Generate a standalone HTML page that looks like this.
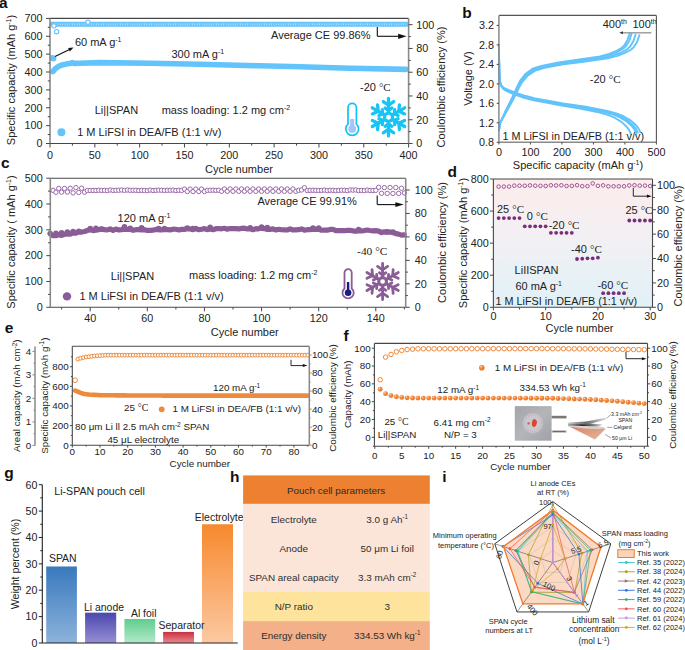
<!DOCTYPE html><html><head><meta charset="utf-8"><style>html,body{margin:0;padding:0;background:#fff;}svg{display:block;}</style></head><body><svg width="685" height="650" viewBox="0 0 685 650" font-family='"Liberation Sans", sans-serif'>
<rect width="685" height="650" fill="white"/>
<defs>
<linearGradient id="gd" x1="0" y1="0" x2="0" y2="1"><stop offset="0" stop-color="#fdeceb"/><stop offset="0.5" stop-color="#f1f0f4"/><stop offset="1" stop-color="#e0f1f7"/></linearGradient>
<linearGradient id="g1" x1="0" y1="0" x2="0" y2="1"><stop offset="0" stop-color="#3a79bd"/><stop offset="1" stop-color="#8cb3db"/></linearGradient>
<linearGradient id="g2" x1="0" y1="0" x2="0" y2="1"><stop offset="0" stop-color="#4b47ad"/><stop offset="1" stop-color="#958fd3"/></linearGradient>
<linearGradient id="g3" x1="0" y1="0" x2="0" y2="1"><stop offset="0" stop-color="#5fcd8e"/><stop offset="1" stop-color="#b3e9ca"/></linearGradient>
<linearGradient id="g4" x1="0" y1="0" x2="0" y2="1"><stop offset="0" stop-color="#c9303e"/><stop offset="1" stop-color="#e98a92"/></linearGradient>
<linearGradient id="g5" x1="0" y1="0" x2="0" y2="1"><stop offset="0" stop-color="#f7892e"/><stop offset="1" stop-color="#fcc9a2"/></linearGradient>
<radialGradient id="sph" cx="0.35" cy="0.32" r="0.75"><stop offset="0" stop-color="#fde2cc"/><stop offset="0.3" stop-color="#f48c44"/><stop offset="1" stop-color="#e8701e"/></radialGradient>
</defs>
<polyline points="51.79,24.3 406.1,24.3" fill="none" stroke="#63c3fb" stroke-width="5.0" stroke-linejoin="round" stroke-linecap="round"/>
<line x1="52.69" y1="24.3" x2="408.6" y2="24.3" stroke="white" stroke-width="2.0" stroke-dasharray="0.9 1.5" opacity="0.55"/>
<circle cx="56.6" cy="31.7" r="2.2" fill="white" stroke="#63c3fb" stroke-width="1.1"/>
<circle cx="53.9" cy="25.8" r="2.2" fill="white" stroke="#63c3fb" stroke-width="1.1"/>
<circle cx="87.9" cy="22.2" r="2.2" fill="white" stroke="#63c3fb" stroke-width="1.1"/>
<circle cx="52.3" cy="58.1" r="3" fill="#63c3fb" stroke="none" stroke-width="1"/>
<circle cx="53.6" cy="58.6" r="2.8" fill="#63c3fb" stroke="none" stroke-width="1"/>
<polyline points="52.8,71.6 55,69 58,66.8 61,65.3 66,64.1 71,63.2 72.5,62.6 74,63.4 80,63.2 100,62.6 150,63.2 200,64.2 260,65.8 300,66.8 350,68.2 406,69.4" fill="none" stroke="#63c3fb" stroke-width="5.6" stroke-linejoin="round" stroke-linecap="round"/>
<line x1="55" y1="56.5" x2="70.5" y2="49" stroke="#111" stroke-width="1.1"/>
<polygon points="73.5,47.6 68.13,47.97 69.86,51.57" fill="#111"/>
<line x1="50" y1="18.4" x2="408.6" y2="18.4" stroke="#474747" stroke-width="1.1"/>
<line x1="50" y1="143.5" x2="408.6" y2="143.5" stroke="#474747" stroke-width="1.1"/>
<line x1="50" y1="18.4" x2="50" y2="143.5" stroke="#8a8a8a" stroke-width="1.6"/>
<line x1="408.6" y1="18.4" x2="408.6" y2="143.5" stroke="#8a8a8a" stroke-width="1.6"/>
<line x1="46" y1="143.5" x2="50" y2="143.5" stroke="#474747" stroke-width="1"/>
<text x="42.4" y="147.3" font-size="10.8" text-anchor="end" font-weight="normal" fill="#222">0</text>
<line x1="46" y1="125.63" x2="50" y2="125.63" stroke="#474747" stroke-width="1"/>
<text x="42.4" y="129.43" font-size="10.8" text-anchor="end" font-weight="normal" fill="#222">100</text>
<line x1="46" y1="107.76" x2="50" y2="107.76" stroke="#474747" stroke-width="1"/>
<text x="42.4" y="111.56" font-size="10.8" text-anchor="end" font-weight="normal" fill="#222">200</text>
<line x1="46" y1="89.89" x2="50" y2="89.89" stroke="#474747" stroke-width="1"/>
<text x="42.4" y="93.69" font-size="10.8" text-anchor="end" font-weight="normal" fill="#222">300</text>
<line x1="46" y1="72.01" x2="50" y2="72.01" stroke="#474747" stroke-width="1"/>
<text x="42.4" y="75.81" font-size="10.8" text-anchor="end" font-weight="normal" fill="#222">400</text>
<line x1="46" y1="54.14" x2="50" y2="54.14" stroke="#474747" stroke-width="1"/>
<text x="42.4" y="57.94" font-size="10.8" text-anchor="end" font-weight="normal" fill="#222">500</text>
<line x1="46" y1="36.27" x2="50" y2="36.27" stroke="#474747" stroke-width="1"/>
<text x="42.4" y="40.07" font-size="10.8" text-anchor="end" font-weight="normal" fill="#222">600</text>
<line x1="46" y1="18.4" x2="50" y2="18.4" stroke="#474747" stroke-width="1"/>
<text x="42.4" y="22.2" font-size="10.8" text-anchor="end" font-weight="normal" fill="#222">700</text>
<line x1="47.8" y1="134.56" x2="50" y2="134.56" stroke="#474747" stroke-width="1"/>
<line x1="47.8" y1="116.69" x2="50" y2="116.69" stroke="#474747" stroke-width="1"/>
<line x1="47.8" y1="98.82" x2="50" y2="98.82" stroke="#474747" stroke-width="1"/>
<line x1="47.8" y1="80.95" x2="50" y2="80.95" stroke="#474747" stroke-width="1"/>
<line x1="47.8" y1="63.08" x2="50" y2="63.08" stroke="#474747" stroke-width="1"/>
<line x1="47.8" y1="45.21" x2="50" y2="45.21" stroke="#474747" stroke-width="1"/>
<line x1="47.8" y1="27.34" x2="50" y2="27.34" stroke="#474747" stroke-width="1"/>
<line x1="408.6" y1="143.5" x2="412.6" y2="143.5" stroke="#474747" stroke-width="1"/>
<text x="416.2" y="147.3" font-size="10.8" text-anchor="start" font-weight="normal" fill="#222">0</text>
<line x1="408.6" y1="119.74" x2="412.6" y2="119.74" stroke="#474747" stroke-width="1"/>
<text x="416.2" y="123.54" font-size="10.8" text-anchor="start" font-weight="normal" fill="#222">20</text>
<line x1="408.6" y1="95.98" x2="412.6" y2="95.98" stroke="#474747" stroke-width="1"/>
<text x="416.2" y="99.78" font-size="10.8" text-anchor="start" font-weight="normal" fill="#222">40</text>
<line x1="408.6" y1="72.22" x2="412.6" y2="72.22" stroke="#474747" stroke-width="1"/>
<text x="416.2" y="76.02" font-size="10.8" text-anchor="start" font-weight="normal" fill="#222">60</text>
<line x1="408.6" y1="48.46" x2="412.6" y2="48.46" stroke="#474747" stroke-width="1"/>
<text x="416.2" y="52.26" font-size="10.8" text-anchor="start" font-weight="normal" fill="#222">80</text>
<line x1="408.6" y1="24.7" x2="412.6" y2="24.7" stroke="#474747" stroke-width="1"/>
<text x="416.2" y="28.5" font-size="10.8" text-anchor="start" font-weight="normal" fill="#222">100</text>
<line x1="408.6" y1="131.62" x2="410.8" y2="131.62" stroke="#474747" stroke-width="1"/>
<line x1="408.6" y1="107.86" x2="410.8" y2="107.86" stroke="#474747" stroke-width="1"/>
<line x1="408.6" y1="84.1" x2="410.8" y2="84.1" stroke="#474747" stroke-width="1"/>
<line x1="408.6" y1="60.34" x2="410.8" y2="60.34" stroke="#474747" stroke-width="1"/>
<line x1="408.6" y1="36.58" x2="410.8" y2="36.58" stroke="#474747" stroke-width="1"/>
<line x1="50" y1="143.5" x2="50" y2="147.5" stroke="#474747" stroke-width="1"/>
<text x="50" y="158.6" font-size="10.8" text-anchor="middle" font-weight="normal" fill="#222">0</text>
<line x1="94.83" y1="143.5" x2="94.83" y2="147.5" stroke="#474747" stroke-width="1"/>
<text x="94.83" y="158.6" font-size="10.8" text-anchor="middle" font-weight="normal" fill="#222">50</text>
<line x1="139.65" y1="143.5" x2="139.65" y2="147.5" stroke="#474747" stroke-width="1"/>
<text x="139.65" y="158.6" font-size="10.8" text-anchor="middle" font-weight="normal" fill="#222">100</text>
<line x1="184.47" y1="143.5" x2="184.47" y2="147.5" stroke="#474747" stroke-width="1"/>
<text x="184.47" y="158.6" font-size="10.8" text-anchor="middle" font-weight="normal" fill="#222">150</text>
<line x1="229.3" y1="143.5" x2="229.3" y2="147.5" stroke="#474747" stroke-width="1"/>
<text x="229.3" y="158.6" font-size="10.8" text-anchor="middle" font-weight="normal" fill="#222">200</text>
<line x1="274.12" y1="143.5" x2="274.12" y2="147.5" stroke="#474747" stroke-width="1"/>
<text x="274.12" y="158.6" font-size="10.8" text-anchor="middle" font-weight="normal" fill="#222">250</text>
<line x1="318.95" y1="143.5" x2="318.95" y2="147.5" stroke="#474747" stroke-width="1"/>
<text x="318.95" y="158.6" font-size="10.8" text-anchor="middle" font-weight="normal" fill="#222">300</text>
<line x1="363.78" y1="143.5" x2="363.78" y2="147.5" stroke="#474747" stroke-width="1"/>
<text x="363.78" y="158.6" font-size="10.8" text-anchor="middle" font-weight="normal" fill="#222">350</text>
<line x1="408.6" y1="143.5" x2="408.6" y2="147.5" stroke="#474747" stroke-width="1"/>
<text x="408.6" y="158.6" font-size="10.8" text-anchor="middle" font-weight="normal" fill="#222">400</text>
<line x1="72.41" y1="143.5" x2="72.41" y2="145.7" stroke="#474747" stroke-width="1"/>
<line x1="117.24" y1="143.5" x2="117.24" y2="145.7" stroke="#474747" stroke-width="1"/>
<line x1="162.06" y1="143.5" x2="162.06" y2="145.7" stroke="#474747" stroke-width="1"/>
<line x1="206.89" y1="143.5" x2="206.89" y2="145.7" stroke="#474747" stroke-width="1"/>
<line x1="251.71" y1="143.5" x2="251.71" y2="145.7" stroke="#474747" stroke-width="1"/>
<line x1="296.54" y1="143.5" x2="296.54" y2="145.7" stroke="#474747" stroke-width="1"/>
<line x1="341.36" y1="143.5" x2="341.36" y2="145.7" stroke="#474747" stroke-width="1"/>
<line x1="386.19" y1="143.5" x2="386.19" y2="145.7" stroke="#474747" stroke-width="1"/>
<text x="239" y="172.8" font-size="11" text-anchor="middle" font-weight="normal" fill="#222">Cycle number</text>
<text x="15" y="80" font-size="11" text-anchor="middle" font-weight="normal" fill="#222" transform="rotate(-90 15 80)">Specific capacity (mAh g<tspan dy="-4" font-size="7">-1</tspan><tspan dy="4">)</tspan></text>
<text x="445" y="87" font-size="11" text-anchor="middle" font-weight="normal" fill="#222" transform="rotate(-90 445 87)">Coulombic efficiency (%)</text>
<text x="-0.9" y="7.9" font-size="15.5" text-anchor="start" font-weight="bold" fill="#111">a</text>
<text x="74.9" y="46.2" font-size="11" text-anchor="start" font-weight="normal" fill="#222">60 mA g<tspan dy="-4" font-size="7">-1</tspan></text>
<text x="171.4" y="57.8" font-size="11" text-anchor="start" font-weight="normal" fill="#222">300 mA g<tspan dy="-4" font-size="7">-1</tspan></text>
<text x="271" y="39" font-size="11" text-anchor="start" font-weight="normal" fill="#222">Average CE 99.86%</text>
<line x1="377.3" y1="27" x2="377.3" y2="36.3" stroke="#111" stroke-width="1.1"/>
<line x1="377.3" y1="36.3" x2="400" y2="36.3" stroke="#111" stroke-width="1.1"/>
<polygon points="406.6,36.3 398.2,33.65 398.2,38.95" fill="#111"/>
<text x="94.7" y="114.2" font-size="11" text-anchor="start" font-weight="normal" fill="#222">Li||SPAN</text>
<text x="161.7" y="114" font-size="11" text-anchor="start" font-weight="normal" fill="#222">mass loading: 1.2 mg cm<tspan dy="-4" font-size="7">-2</tspan></text>
<circle cx="61.4" cy="132.2" r="4" fill="#63c3fb" stroke="none" stroke-width="1"/>
<text x="77.2" y="136.2" font-size="11" text-anchor="start" font-weight="normal" fill="#222">1 M LiFSI in DEA/FB (1:1 v/v)</text>
<text x="360" y="91" font-size="11" text-anchor="start" font-weight="normal" fill="#222">-20 <tspan font-family="Liberation Serif">°C</tspan></text>
<path d="M348 124.07 V107.6 A4.2 4.2 0 0 1 356.4 107.6 V124.07 A6.4 6.4 0 1 1 348 124.07 Z" fill="white" stroke="#12c2f4" stroke-width="1.7"/>
<circle cx="352.2" cy="128.9" r="3.9" fill="#a6c4f6" stroke="none" stroke-width="1"/>
<rect x="350.2" y="119.03" width="4" height="9.87" fill="#a6c4f6"/>
<g stroke="#18c4f4" stroke-width="3.3" stroke-linecap="round"><line x1="388.5" y1="117.2" x2="388.5" y2="98.5"/><line x1="388.5" y1="110.47" x2="391.87" y2="108.11"/><line x1="388.5" y1="110.47" x2="385.13" y2="108.11"/><line x1="388.5" y1="105.23" x2="393.71" y2="101.59"/><line x1="388.5" y1="105.23" x2="383.29" y2="101.59"/><line x1="388.5" y1="117.2" x2="372.31" y2="107.85"/><line x1="382.67" y1="113.83" x2="382.31" y2="109.74"/><line x1="382.67" y1="113.83" x2="378.94" y2="115.57"/><line x1="378.14" y1="111.22" x2="377.58" y2="104.88"/><line x1="378.14" y1="111.22" x2="372.37" y2="113.9"/><line x1="388.5" y1="117.2" x2="372.31" y2="126.55"/><line x1="382.67" y1="120.57" x2="378.94" y2="118.83"/><line x1="382.67" y1="120.57" x2="382.31" y2="124.66"/><line x1="378.14" y1="123.18" x2="372.37" y2="120.5"/><line x1="378.14" y1="123.18" x2="377.58" y2="129.52"/><line x1="388.5" y1="117.2" x2="388.5" y2="135.9"/><line x1="388.5" y1="123.93" x2="385.13" y2="126.29"/><line x1="388.5" y1="123.93" x2="391.87" y2="126.29"/><line x1="388.5" y1="129.17" x2="383.29" y2="132.81"/><line x1="388.5" y1="129.17" x2="393.71" y2="132.81"/><line x1="388.5" y1="117.2" x2="404.69" y2="126.55"/><line x1="394.33" y1="120.57" x2="394.69" y2="124.66"/><line x1="394.33" y1="120.57" x2="398.06" y2="118.83"/><line x1="398.86" y1="123.18" x2="399.42" y2="129.52"/><line x1="398.86" y1="123.18" x2="404.63" y2="120.5"/><line x1="388.5" y1="117.2" x2="404.69" y2="107.85"/><line x1="394.33" y1="113.83" x2="398.06" y2="115.57"/><line x1="394.33" y1="113.83" x2="394.69" y2="109.74"/><line x1="398.86" y1="111.22" x2="404.63" y2="113.9"/><line x1="398.86" y1="111.22" x2="399.42" y2="104.88"/></g>
<circle cx="388.5" cy="117.2" r="5.61" fill="#18c4f4" stroke="none" stroke-width="1"/>
<circle cx="388.5" cy="117.2" r="2.43" fill="white" stroke="none" stroke-width="1"/>
<polyline points="498.9,44.9 499.09,59.56 499.37,74.25 499.84,81.19 500.79,85.35 502.68,88.29 504.57,90.02 508.35,91.9 514.97,94.57 524.1,97.74 532.61,100.17 546.15,102.61 558.75,105.04 579.86,108.45 600.01,112.59 609.15,115.27 615.13,117.95 621.75,122.09 626.48,126.47 629,129.88 630.88,133.78" fill="none" stroke="#63c3fb" stroke-width="1.9" stroke-linejoin="round" stroke-linecap="round"/>
<polyline points="498.9,44.9 499.1,59.54 499.39,74.2 499.88,81.1 500.87,85.16 502.83,87.91 504.8,89.45 508.73,91.26 515.62,93.94 525.12,97.11 533.97,99.54 548.07,101.98 561.18,104.41 583.14,107.82 604.12,111.96 613.62,114.64 619.85,117.32 626.73,121.46 631.65,125.84 634.27,129.25 636.24,133.14" fill="none" stroke="#63c3fb" stroke-width="1.9" stroke-linejoin="round" stroke-linecap="round"/>
<polyline points="498.9,44.9 499.1,59.52 499.4,74.16 499.89,81.01 500.89,84.98 502.88,87.56 504.87,88.92 508.85,90.68 515.81,93.36 525.42,96.52 534.37,98.96 548.63,101.39 561.89,103.83 584.11,107.24 605.32,111.38 614.94,114.05 621.24,116.73 628.2,120.87 633.17,125.26 635.83,128.66 637.81,132.56" fill="none" stroke="#63c3fb" stroke-width="1.9" stroke-linejoin="round" stroke-linecap="round"/>
<polyline points="498.9,44.9 499.1,59.51 499.41,74.12 499.91,80.94 500.93,84.83 502.95,87.27 504.98,88.49 509.03,90.19 516.12,92.87 525.9,96.04 535.02,98.47 549.53,100.91 563.04,103.34 585.65,106.75 607.25,110.89 617.04,113.57 623.46,116.25 630.55,120.39 635.61,124.77 638.31,128.18 640.34,132.07" fill="none" stroke="#63c3fb" stroke-width="1.9" stroke-linejoin="round" stroke-linecap="round"/>
<polyline points="498.9,130.61 499.53,126.59 500,123.08 505.2,111.78 512,97.98 514.97,91.65 517.8,85.32 520.32,80.45 525.36,74.12 532.61,68.76 541.42,65.84 558.75,62.43 577.65,59.75 600.01,56.34 609.15,53.91 615.76,51.23 621.75,47.82 624.59,44.9 627.42,40.03 629.62,33.21" fill="none" stroke="#63c3fb" stroke-width="1.9" stroke-linejoin="round" stroke-linecap="round"/>
<polyline points="498.9,130.61 499.54,126.63 500.02,123.15 505.29,112.2 512.19,98.62 515.2,92.29 518.07,85.95 520.63,81.08 525.74,74.75 533.09,69.4 542.04,66.47 559.62,63.07 578.79,60.39 601.48,56.98 610.74,54.54 617.45,51.86 623.53,48.46 626.4,45.53 629.28,40.66 631.51,33.85" fill="none" stroke="#63c3fb" stroke-width="1.9" stroke-linejoin="round" stroke-linecap="round"/>
<polyline points="498.9,130.61 499.56,126.67 500.05,123.23 505.49,112.66 512.6,99.3 515.7,92.97 518.67,86.64 521.3,81.77 526.57,75.43 534.15,70.08 543.37,67.16 561.49,63.75 581.26,61.07 604.64,57.66 614.2,55.22 621.12,52.55 627.37,49.14 630.34,46.21 633.3,41.34 635.61,34.53" fill="none" stroke="#63c3fb" stroke-width="1.9" stroke-linejoin="round" stroke-linecap="round"/>
<polyline points="498.9,130.61 499.58,126.72 500.08,123.31 505.67,113.08 512.98,99.93 516.17,93.6 519.21,87.27 521.92,82.4 527.34,76.07 535.12,70.71 544.6,67.79 563.22,64.38 583.53,61.7 607.57,58.29 617.39,55.86 624.49,53.18 630.93,49.77 633.97,46.85 637.02,41.98 639.39,35.16" fill="none" stroke="#63c3fb" stroke-width="1.9" stroke-linejoin="round" stroke-linecap="round"/>
<line x1="498.9" y1="15.4" x2="656.4" y2="15.4" stroke="#555" stroke-width="1.1"/>
<line x1="656.4" y1="15.4" x2="656.4" y2="142.3" stroke="#555" stroke-width="1.1"/>
<line x1="498.9" y1="142.3" x2="656.4" y2="142.3" stroke="#8a8a8a" stroke-width="1.4"/>
<line x1="498.9" y1="15.4" x2="498.9" y2="142.3" stroke="#8a8a8a" stroke-width="1.5"/>
<line x1="496.7" y1="142.3" x2="498.9" y2="142.3" stroke="#474747" stroke-width="1"/>
<text x="494.1" y="146.1" font-size="10.8" text-anchor="end" font-weight="normal" fill="#222">0.8</text>
<line x1="496.7" y1="122.82" x2="498.9" y2="122.82" stroke="#474747" stroke-width="1"/>
<text x="494.1" y="126.62" font-size="10.8" text-anchor="end" font-weight="normal" fill="#222">1.2</text>
<line x1="496.7" y1="103.34" x2="498.9" y2="103.34" stroke="#474747" stroke-width="1"/>
<text x="494.1" y="107.14" font-size="10.8" text-anchor="end" font-weight="normal" fill="#222">1.6</text>
<line x1="496.7" y1="83.86" x2="498.9" y2="83.86" stroke="#474747" stroke-width="1"/>
<text x="494.1" y="87.66" font-size="10.8" text-anchor="end" font-weight="normal" fill="#222">2.0</text>
<line x1="496.7" y1="64.38" x2="498.9" y2="64.38" stroke="#474747" stroke-width="1"/>
<text x="494.1" y="68.18" font-size="10.8" text-anchor="end" font-weight="normal" fill="#222">2.4</text>
<line x1="496.7" y1="44.9" x2="498.9" y2="44.9" stroke="#474747" stroke-width="1"/>
<text x="494.1" y="48.7" font-size="10.8" text-anchor="end" font-weight="normal" fill="#222">2.8</text>
<line x1="496.7" y1="25.42" x2="498.9" y2="25.42" stroke="#474747" stroke-width="1"/>
<text x="494.1" y="29.22" font-size="10.8" text-anchor="end" font-weight="normal" fill="#222">3.2</text>
<line x1="498.9" y1="142.3" x2="498.9" y2="144.5" stroke="#474747" stroke-width="1"/>
<text x="498.9" y="155.8" font-size="10.8" text-anchor="middle" font-weight="normal" fill="#222">0</text>
<line x1="530.4" y1="142.3" x2="530.4" y2="144.5" stroke="#474747" stroke-width="1"/>
<text x="530.4" y="155.8" font-size="10.8" text-anchor="middle" font-weight="normal" fill="#222">100</text>
<line x1="561.9" y1="142.3" x2="561.9" y2="144.5" stroke="#474747" stroke-width="1"/>
<text x="561.9" y="155.8" font-size="10.8" text-anchor="middle" font-weight="normal" fill="#222">200</text>
<line x1="593.4" y1="142.3" x2="593.4" y2="144.5" stroke="#474747" stroke-width="1"/>
<text x="593.4" y="155.8" font-size="10.8" text-anchor="middle" font-weight="normal" fill="#222">300</text>
<line x1="624.9" y1="142.3" x2="624.9" y2="144.5" stroke="#474747" stroke-width="1"/>
<text x="624.9" y="155.8" font-size="10.8" text-anchor="middle" font-weight="normal" fill="#222">400</text>
<line x1="656.4" y1="142.3" x2="656.4" y2="144.5" stroke="#474747" stroke-width="1"/>
<text x="656.4" y="155.8" font-size="10.8" text-anchor="middle" font-weight="normal" fill="#222">500</text>
<text x="578" y="169.3" font-size="11" text-anchor="middle" font-weight="normal" fill="#222">Specific capacity (mAh g<tspan dy="-4" font-size="7">-1</tspan><tspan dy="4">)</tspan></text>
<text x="472.2" y="78.5" font-size="11" text-anchor="middle" font-weight="normal" fill="#222" transform="rotate(-90 472.2 78.5)">Voltage (V)</text>
<text x="462.2" y="17.5" font-size="15.5" text-anchor="start" font-weight="bold" fill="#111">b</text>
<text x="602.7" y="28.2" font-size="11" text-anchor="start" font-weight="normal" fill="#222">400<tspan dy="-4" font-size="7">th</tspan></text>
<text x="632.4" y="28.2" font-size="11" text-anchor="start" font-weight="normal" fill="#222">100<tspan dy="-4" font-size="7">th</tspan></text>
<line x1="622" y1="32.8" x2="651.4" y2="32.8" stroke="#999" stroke-width="1.4"/>
<polygon points="619.3,32.8 622.9,34.3 622.9,31.3" fill="#333"/>
<text x="589.8" y="82.8" font-size="11" text-anchor="start" font-weight="normal" fill="#222">-20 <tspan font-family="Liberation Serif">°C</tspan></text>
<text x="502.4" y="139.6" font-size="10.8" text-anchor="start" font-weight="normal" fill="#222">1 M LiFSI in DEA/FB (1:1 v/v)</text>
<polyline points="53.07,235.6 55.93,235.67 58.78,234.71 61.64,235.41 64.5,234.26 67.35,234.09 70.21,234.14 73.06,232.93 75.92,233.14 78.78,232.01 81.63,232.06 84.49,231.51 87.34,230.47 90.2,229.68 93.06,230.59 95.91,230.27 98.77,229.61 101.62,229.08 104.48,229.62 107.34,229.87 110.19,228.94 113.05,230.35 115.9,229.06 118.76,229.91 121.62,229.62 124.47,229.14 127.33,229.49 130.18,229.35 133.04,230.32 135.9,229.68 138.75,229.58 141.61,229.97 144.46,229.69 147.32,230.42 150.18,230.41 153.03,230.17 155.89,229.42 158.74,229.79 161.6,229.95 164.46,229.51 167.31,229.7 170.17,229.92 173.02,229.14 175.88,229.27 178.74,229.93 181.59,229.36 184.45,229.39 187.3,228.79 190.16,228.97 193.02,229.6 195.87,228.48 198.73,229.76 201.58,229.24 204.44,228.67 207.3,229.58 210.15,229.03 213.01,229.7 215.86,228.7 218.72,228.53 221.58,228.8 224.43,228.3 227.29,229.15 230.14,228.53 233,228.66 235.86,228.71 238.71,228.93 241.57,228.36 244.42,228.22 247.28,228.98 250.14,228.71 252.99,229.67 255.85,228.7 258.7,228.81 261.56,228.3 264.42,228.59 267.27,229.45 270.13,229.32 272.98,228.91 275.84,229.93 278.7,229.28 281.55,229.76 284.41,229.87 287.26,229.98 290.12,228.91 292.98,229.95 295.83,229.82 298.69,229.65 301.54,228.95 304.4,230.23 307.26,229.71 310.11,229.61 312.97,229.14 315.82,229.29 318.68,229.28 321.54,230.23 324.39,230.07 327.25,230.21 330.1,229.45 332.96,229.39 335.82,230.69 338.67,230.7 341.53,230.67 344.38,230.72 347.24,230.38 350.1,230.27 352.95,230.83 355.81,231.28 358.66,230.69 361.52,230.82 364.38,230.56 367.23,230.02 370.09,230.47 372.94,230.8 375.8,230.69 378.66,231.12 381.51,232.6 384.37,231.8 387.22,232.16 390.08,232.19 392.94,232.48 395.79,233.62 398.65,234.13 401.5,235.1 404.36,234.8" fill="none" stroke="#8b5d97" stroke-width="5.2" stroke-linejoin="round" stroke-linecap="round"/>
<circle cx="50.22" cy="233.62" r="2.8" fill="#8b5d97" stroke="none" stroke-width="1"/>
<circle cx="55.93" cy="233.38" r="2.8" fill="#8b5d97" stroke="none" stroke-width="1"/>
<circle cx="61.64" cy="232.82" r="2.8" fill="#8b5d97" stroke="none" stroke-width="1"/>
<circle cx="67.35" cy="232.11" r="2.8" fill="#8b5d97" stroke="none" stroke-width="1"/>
<circle cx="73.06" cy="231.48" r="2.8" fill="#8b5d97" stroke="none" stroke-width="1"/>
<circle cx="78.78" cy="231.22" r="2.8" fill="#8b5d97" stroke="none" stroke-width="1"/>
<circle cx="90.2" cy="228.56" r="2.8" fill="#8b5d97" stroke="none" stroke-width="1"/>
<circle cx="95.91" cy="228.39" r="2.8" fill="#8b5d97" stroke="none" stroke-width="1"/>
<circle cx="101.62" cy="229.05" r="2.8" fill="#8b5d97" stroke="none" stroke-width="1"/>
<circle cx="124.47" cy="226.7" r="2.8" fill="#8b5d97" stroke="none" stroke-width="1"/>
<circle cx="130.18" cy="228.24" r="2.8" fill="#8b5d97" stroke="none" stroke-width="1"/>
<circle cx="141.61" cy="227.81" r="2.8" fill="#8b5d97" stroke="none" stroke-width="1"/>
<circle cx="158.74" cy="228.49" r="2.8" fill="#8b5d97" stroke="none" stroke-width="1"/>
<circle cx="164.46" cy="228.44" r="2.8" fill="#8b5d97" stroke="none" stroke-width="1"/>
<circle cx="187.3" cy="227.93" r="2.8" fill="#8b5d97" stroke="none" stroke-width="1"/>
<circle cx="193.02" cy="228.43" r="2.8" fill="#8b5d97" stroke="none" stroke-width="1"/>
<circle cx="210.15" cy="227.35" r="2.8" fill="#8b5d97" stroke="none" stroke-width="1"/>
<circle cx="250.14" cy="227.74" r="2.8" fill="#8b5d97" stroke="none" stroke-width="1"/>
<circle cx="261.56" cy="227.11" r="2.8" fill="#8b5d97" stroke="none" stroke-width="1"/>
<circle cx="267.27" cy="227.51" r="2.8" fill="#8b5d97" stroke="none" stroke-width="1"/>
<circle cx="312.97" cy="228.08" r="2.8" fill="#8b5d97" stroke="none" stroke-width="1"/>
<circle cx="318.68" cy="228.15" r="2.8" fill="#8b5d97" stroke="none" stroke-width="1"/>
<circle cx="358.66" cy="229.55" r="2.8" fill="#8b5d97" stroke="none" stroke-width="1"/>
<circle cx="387.22" cy="231.78" r="2.8" fill="#8b5d97" stroke="none" stroke-width="1"/>
<circle cx="392.94" cy="232.14" r="2.8" fill="#8b5d97" stroke="none" stroke-width="1"/>
<circle cx="53.07" cy="190.37" r="2.2" fill="white" stroke="#9a6aaa" stroke-width="1.0"/>
<circle cx="55.93" cy="192.28" r="2.2" fill="white" stroke="#9a6aaa" stroke-width="1.0"/>
<circle cx="58.78" cy="188.47" r="2.2" fill="white" stroke="#9a6aaa" stroke-width="1.0"/>
<circle cx="61.64" cy="192.1" r="2.2" fill="white" stroke="#9a6aaa" stroke-width="1.0"/>
<circle cx="64.5" cy="188.45" r="2.2" fill="white" stroke="#9a6aaa" stroke-width="1.0"/>
<circle cx="67.35" cy="192.02" r="2.2" fill="white" stroke="#9a6aaa" stroke-width="1.0"/>
<circle cx="70.21" cy="188.25" r="2.2" fill="white" stroke="#9a6aaa" stroke-width="1.0"/>
<circle cx="73.06" cy="192.87" r="2.2" fill="white" stroke="#9a6aaa" stroke-width="1.0"/>
<circle cx="75.92" cy="187.63" r="2.2" fill="white" stroke="#9a6aaa" stroke-width="1.0"/>
<circle cx="78.78" cy="192.47" r="2.2" fill="white" stroke="#9a6aaa" stroke-width="1.0"/>
<circle cx="81.63" cy="188.17" r="2.2" fill="white" stroke="#9a6aaa" stroke-width="1.0"/>
<circle cx="84.49" cy="192.17" r="2.2" fill="white" stroke="#9a6aaa" stroke-width="1.0"/>
<circle cx="87.34" cy="190.5" r="2.2" fill="white" stroke="#9a6aaa" stroke-width="1.0"/>
<circle cx="90.2" cy="190.47" r="2.2" fill="white" stroke="#9a6aaa" stroke-width="1.0"/>
<circle cx="93.06" cy="190.44" r="2.2" fill="white" stroke="#9a6aaa" stroke-width="1.0"/>
<circle cx="95.91" cy="190.48" r="2.2" fill="white" stroke="#9a6aaa" stroke-width="1.0"/>
<circle cx="98.77" cy="190.24" r="2.2" fill="white" stroke="#9a6aaa" stroke-width="1.0"/>
<circle cx="101.62" cy="190.47" r="2.2" fill="white" stroke="#9a6aaa" stroke-width="1.0"/>
<circle cx="104.48" cy="190.36" r="2.2" fill="white" stroke="#9a6aaa" stroke-width="1.0"/>
<circle cx="107.34" cy="190.56" r="2.2" fill="white" stroke="#9a6aaa" stroke-width="1.0"/>
<circle cx="110.19" cy="190.01" r="2.2" fill="white" stroke="#9a6aaa" stroke-width="1.0"/>
<circle cx="113.05" cy="190.4" r="2.2" fill="white" stroke="#9a6aaa" stroke-width="1.0"/>
<circle cx="115.9" cy="190.33" r="2.2" fill="white" stroke="#9a6aaa" stroke-width="1.0"/>
<circle cx="118.76" cy="190.24" r="2.2" fill="white" stroke="#9a6aaa" stroke-width="1.0"/>
<circle cx="121.62" cy="190.02" r="2.2" fill="white" stroke="#9a6aaa" stroke-width="1.0"/>
<circle cx="124.47" cy="190.36" r="2.2" fill="white" stroke="#9a6aaa" stroke-width="1.0"/>
<circle cx="127.33" cy="190.01" r="2.2" fill="white" stroke="#9a6aaa" stroke-width="1.0"/>
<circle cx="130.18" cy="190.3" r="2.2" fill="white" stroke="#9a6aaa" stroke-width="1.0"/>
<circle cx="133.04" cy="190.28" r="2.2" fill="white" stroke="#9a6aaa" stroke-width="1.0"/>
<circle cx="135.9" cy="190.28" r="2.2" fill="white" stroke="#9a6aaa" stroke-width="1.0"/>
<circle cx="138.75" cy="190.64" r="2.2" fill="white" stroke="#9a6aaa" stroke-width="1.0"/>
<circle cx="141.61" cy="190.34" r="2.2" fill="white" stroke="#9a6aaa" stroke-width="1.0"/>
<circle cx="144.46" cy="190.52" r="2.2" fill="white" stroke="#9a6aaa" stroke-width="1.0"/>
<circle cx="147.32" cy="190.65" r="2.2" fill="white" stroke="#9a6aaa" stroke-width="1.0"/>
<circle cx="150.18" cy="190.09" r="2.2" fill="white" stroke="#9a6aaa" stroke-width="1.0"/>
<circle cx="153.03" cy="190.53" r="2.2" fill="white" stroke="#9a6aaa" stroke-width="1.0"/>
<circle cx="155.89" cy="190.32" r="2.2" fill="white" stroke="#9a6aaa" stroke-width="1.0"/>
<circle cx="158.74" cy="190.14" r="2.2" fill="white" stroke="#9a6aaa" stroke-width="1.0"/>
<circle cx="161.6" cy="190.26" r="2.2" fill="white" stroke="#9a6aaa" stroke-width="1.0"/>
<circle cx="164.46" cy="190.42" r="2.2" fill="white" stroke="#9a6aaa" stroke-width="1.0"/>
<circle cx="167.31" cy="190.29" r="2.2" fill="white" stroke="#9a6aaa" stroke-width="1.0"/>
<circle cx="170.17" cy="190.26" r="2.2" fill="white" stroke="#9a6aaa" stroke-width="1.0"/>
<circle cx="173.02" cy="190.1" r="2.2" fill="white" stroke="#9a6aaa" stroke-width="1.0"/>
<circle cx="175.88" cy="190.58" r="2.2" fill="white" stroke="#9a6aaa" stroke-width="1.0"/>
<circle cx="178.74" cy="190.26" r="2.2" fill="white" stroke="#9a6aaa" stroke-width="1.0"/>
<circle cx="181.59" cy="190.48" r="2.2" fill="white" stroke="#9a6aaa" stroke-width="1.0"/>
<circle cx="184.45" cy="189.1" r="2.2" fill="white" stroke="#9a6aaa" stroke-width="1.0"/>
<circle cx="187.3" cy="191.5" r="2.2" fill="white" stroke="#9a6aaa" stroke-width="1.0"/>
<circle cx="190.16" cy="189.1" r="2.2" fill="white" stroke="#9a6aaa" stroke-width="1.0"/>
<circle cx="193.02" cy="191.5" r="2.2" fill="white" stroke="#9a6aaa" stroke-width="1.0"/>
<circle cx="195.87" cy="189.1" r="2.2" fill="white" stroke="#9a6aaa" stroke-width="1.0"/>
<circle cx="198.73" cy="191.5" r="2.2" fill="white" stroke="#9a6aaa" stroke-width="1.0"/>
<circle cx="201.58" cy="189.1" r="2.2" fill="white" stroke="#9a6aaa" stroke-width="1.0"/>
<circle cx="204.44" cy="191.5" r="2.2" fill="white" stroke="#9a6aaa" stroke-width="1.0"/>
<circle cx="207.3" cy="190.3" r="2.2" fill="white" stroke="#9a6aaa" stroke-width="1.0"/>
<circle cx="210.15" cy="190.29" r="2.2" fill="white" stroke="#9a6aaa" stroke-width="1.0"/>
<circle cx="213.01" cy="190.17" r="2.2" fill="white" stroke="#9a6aaa" stroke-width="1.0"/>
<circle cx="215.86" cy="190.33" r="2.2" fill="white" stroke="#9a6aaa" stroke-width="1.0"/>
<circle cx="218.72" cy="190.28" r="2.2" fill="white" stroke="#9a6aaa" stroke-width="1.0"/>
<circle cx="221.58" cy="191.3" r="2.2" fill="white" stroke="#9a6aaa" stroke-width="1.0"/>
<circle cx="224.43" cy="189" r="2.2" fill="white" stroke="#9a6aaa" stroke-width="1.0"/>
<circle cx="227.29" cy="191.3" r="2.2" fill="white" stroke="#9a6aaa" stroke-width="1.0"/>
<circle cx="230.14" cy="189" r="2.2" fill="white" stroke="#9a6aaa" stroke-width="1.0"/>
<circle cx="233" cy="191.3" r="2.2" fill="white" stroke="#9a6aaa" stroke-width="1.0"/>
<circle cx="235.86" cy="189" r="2.2" fill="white" stroke="#9a6aaa" stroke-width="1.0"/>
<circle cx="238.71" cy="191.3" r="2.2" fill="white" stroke="#9a6aaa" stroke-width="1.0"/>
<circle cx="241.57" cy="189" r="2.2" fill="white" stroke="#9a6aaa" stroke-width="1.0"/>
<circle cx="244.42" cy="191.3" r="2.2" fill="white" stroke="#9a6aaa" stroke-width="1.0"/>
<circle cx="247.28" cy="189" r="2.2" fill="white" stroke="#9a6aaa" stroke-width="1.0"/>
<circle cx="250.14" cy="191.3" r="2.2" fill="white" stroke="#9a6aaa" stroke-width="1.0"/>
<circle cx="252.99" cy="189" r="2.2" fill="white" stroke="#9a6aaa" stroke-width="1.0"/>
<circle cx="255.85" cy="191.3" r="2.2" fill="white" stroke="#9a6aaa" stroke-width="1.0"/>
<circle cx="258.7" cy="189" r="2.2" fill="white" stroke="#9a6aaa" stroke-width="1.0"/>
<circle cx="261.56" cy="191.3" r="2.2" fill="white" stroke="#9a6aaa" stroke-width="1.0"/>
<circle cx="264.42" cy="189" r="2.2" fill="white" stroke="#9a6aaa" stroke-width="1.0"/>
<circle cx="267.27" cy="191.3" r="2.2" fill="white" stroke="#9a6aaa" stroke-width="1.0"/>
<circle cx="270.13" cy="189" r="2.2" fill="white" stroke="#9a6aaa" stroke-width="1.0"/>
<circle cx="272.98" cy="191.3" r="2.2" fill="white" stroke="#9a6aaa" stroke-width="1.0"/>
<circle cx="275.84" cy="189" r="2.2" fill="white" stroke="#9a6aaa" stroke-width="1.0"/>
<circle cx="278.7" cy="191.3" r="2.2" fill="white" stroke="#9a6aaa" stroke-width="1.0"/>
<circle cx="281.55" cy="189" r="2.2" fill="white" stroke="#9a6aaa" stroke-width="1.0"/>
<circle cx="284.41" cy="191.3" r="2.2" fill="white" stroke="#9a6aaa" stroke-width="1.0"/>
<circle cx="287.26" cy="189" r="2.2" fill="white" stroke="#9a6aaa" stroke-width="1.0"/>
<circle cx="290.12" cy="191.3" r="2.2" fill="white" stroke="#9a6aaa" stroke-width="1.0"/>
<circle cx="292.98" cy="189" r="2.2" fill="white" stroke="#9a6aaa" stroke-width="1.0"/>
<circle cx="295.83" cy="191.3" r="2.2" fill="white" stroke="#9a6aaa" stroke-width="1.0"/>
<circle cx="298.69" cy="190.31" r="2.2" fill="white" stroke="#9a6aaa" stroke-width="1.0"/>
<circle cx="301.54" cy="189.96" r="2.2" fill="white" stroke="#9a6aaa" stroke-width="1.0"/>
<circle cx="304.4" cy="187.7" r="2.2" fill="white" stroke="#9a6aaa" stroke-width="1.0"/>
<circle cx="307.26" cy="190.54" r="2.2" fill="white" stroke="#9a6aaa" stroke-width="1.0"/>
<circle cx="310.11" cy="190.35" r="2.2" fill="white" stroke="#9a6aaa" stroke-width="1.0"/>
<circle cx="312.97" cy="190.29" r="2.2" fill="white" stroke="#9a6aaa" stroke-width="1.0"/>
<circle cx="315.82" cy="190.41" r="2.2" fill="white" stroke="#9a6aaa" stroke-width="1.0"/>
<circle cx="318.68" cy="190.51" r="2.2" fill="white" stroke="#9a6aaa" stroke-width="1.0"/>
<circle cx="321.54" cy="190.43" r="2.2" fill="white" stroke="#9a6aaa" stroke-width="1.0"/>
<circle cx="324.39" cy="190.14" r="2.2" fill="white" stroke="#9a6aaa" stroke-width="1.0"/>
<circle cx="327.25" cy="190.64" r="2.2" fill="white" stroke="#9a6aaa" stroke-width="1.0"/>
<circle cx="330.1" cy="190.26" r="2.2" fill="white" stroke="#9a6aaa" stroke-width="1.0"/>
<circle cx="332.96" cy="190.34" r="2.2" fill="white" stroke="#9a6aaa" stroke-width="1.0"/>
<circle cx="335.82" cy="190.64" r="2.2" fill="white" stroke="#9a6aaa" stroke-width="1.0"/>
<circle cx="338.67" cy="190.42" r="2.2" fill="white" stroke="#9a6aaa" stroke-width="1.0"/>
<circle cx="341.53" cy="190.21" r="2.2" fill="white" stroke="#9a6aaa" stroke-width="1.0"/>
<circle cx="344.38" cy="190.29" r="2.2" fill="white" stroke="#9a6aaa" stroke-width="1.0"/>
<circle cx="347.24" cy="190.6" r="2.2" fill="white" stroke="#9a6aaa" stroke-width="1.0"/>
<circle cx="350.1" cy="189.96" r="2.2" fill="white" stroke="#9a6aaa" stroke-width="1.0"/>
<circle cx="352.95" cy="190.1" r="2.2" fill="white" stroke="#9a6aaa" stroke-width="1.0"/>
<circle cx="355.81" cy="189.97" r="2.2" fill="white" stroke="#9a6aaa" stroke-width="1.0"/>
<circle cx="358.66" cy="190.58" r="2.2" fill="white" stroke="#9a6aaa" stroke-width="1.0"/>
<circle cx="361.52" cy="190.46" r="2.2" fill="white" stroke="#9a6aaa" stroke-width="1.0"/>
<circle cx="364.38" cy="190.62" r="2.2" fill="white" stroke="#9a6aaa" stroke-width="1.0"/>
<circle cx="367.23" cy="190.1" r="2.2" fill="white" stroke="#9a6aaa" stroke-width="1.0"/>
<circle cx="370.09" cy="190.46" r="2.2" fill="white" stroke="#9a6aaa" stroke-width="1.0"/>
<circle cx="372.94" cy="190.56" r="2.2" fill="white" stroke="#9a6aaa" stroke-width="1.0"/>
<circle cx="375.8" cy="190.35" r="2.2" fill="white" stroke="#9a6aaa" stroke-width="1.0"/>
<circle cx="378.66" cy="187.32" r="2.2" fill="white" stroke="#9a6aaa" stroke-width="1.0"/>
<circle cx="381.51" cy="193.32" r="2.2" fill="white" stroke="#9a6aaa" stroke-width="1.0"/>
<circle cx="384.37" cy="187.62" r="2.2" fill="white" stroke="#9a6aaa" stroke-width="1.0"/>
<circle cx="387.22" cy="193.39" r="2.2" fill="white" stroke="#9a6aaa" stroke-width="1.0"/>
<circle cx="390.08" cy="187.47" r="2.2" fill="white" stroke="#9a6aaa" stroke-width="1.0"/>
<circle cx="392.94" cy="193.41" r="2.2" fill="white" stroke="#9a6aaa" stroke-width="1.0"/>
<circle cx="395.79" cy="187.54" r="2.2" fill="white" stroke="#9a6aaa" stroke-width="1.0"/>
<circle cx="398.65" cy="193.4" r="2.2" fill="white" stroke="#9a6aaa" stroke-width="1.0"/>
<circle cx="401.5" cy="188.22" r="2.2" fill="white" stroke="#9a6aaa" stroke-width="1.0"/>
<circle cx="404.36" cy="192.96" r="2.2" fill="white" stroke="#9a6aaa" stroke-width="1.0"/>
<line x1="50.3" y1="178.2" x2="405.7" y2="178.2" stroke="#474747" stroke-width="1.1"/>
<line x1="50.3" y1="307.3" x2="405.7" y2="307.3" stroke="#474747" stroke-width="1.1"/>
<line x1="50.3" y1="178.2" x2="50.3" y2="307.3" stroke="#8a8a8a" stroke-width="1.6"/>
<line x1="405.7" y1="178.2" x2="405.7" y2="307.3" stroke="#8a8a8a" stroke-width="1.6"/>
<line x1="46.3" y1="307.3" x2="50.3" y2="307.3" stroke="#474747" stroke-width="1"/>
<text x="42.7" y="311.1" font-size="10.8" text-anchor="end" font-weight="normal" fill="#222">0</text>
<line x1="46.3" y1="281.48" x2="50.3" y2="281.48" stroke="#474747" stroke-width="1"/>
<text x="42.7" y="285.28" font-size="10.8" text-anchor="end" font-weight="normal" fill="#222">100</text>
<line x1="46.3" y1="255.66" x2="50.3" y2="255.66" stroke="#474747" stroke-width="1"/>
<text x="42.7" y="259.46" font-size="10.8" text-anchor="end" font-weight="normal" fill="#222">200</text>
<line x1="46.3" y1="229.84" x2="50.3" y2="229.84" stroke="#474747" stroke-width="1"/>
<text x="42.7" y="233.64" font-size="10.8" text-anchor="end" font-weight="normal" fill="#222">300</text>
<line x1="46.3" y1="204.02" x2="50.3" y2="204.02" stroke="#474747" stroke-width="1"/>
<text x="42.7" y="207.82" font-size="10.8" text-anchor="end" font-weight="normal" fill="#222">400</text>
<line x1="46.3" y1="178.2" x2="50.3" y2="178.2" stroke="#474747" stroke-width="1"/>
<text x="42.7" y="182" font-size="10.8" text-anchor="end" font-weight="normal" fill="#222">500</text>
<line x1="48.1" y1="294.39" x2="50.3" y2="294.39" stroke="#474747" stroke-width="1"/>
<line x1="48.1" y1="268.57" x2="50.3" y2="268.57" stroke="#474747" stroke-width="1"/>
<line x1="48.1" y1="242.75" x2="50.3" y2="242.75" stroke="#474747" stroke-width="1"/>
<line x1="48.1" y1="216.93" x2="50.3" y2="216.93" stroke="#474747" stroke-width="1"/>
<line x1="48.1" y1="191.11" x2="50.3" y2="191.11" stroke="#474747" stroke-width="1"/>
<line x1="405.7" y1="307.3" x2="409.7" y2="307.3" stroke="#474747" stroke-width="1"/>
<text x="414.7" y="311.1" font-size="10.8" text-anchor="start" font-weight="normal" fill="#222">0</text>
<line x1="405.7" y1="283.84" x2="409.7" y2="283.84" stroke="#474747" stroke-width="1"/>
<text x="414.7" y="287.64" font-size="10.8" text-anchor="start" font-weight="normal" fill="#222">20</text>
<line x1="405.7" y1="260.38" x2="409.7" y2="260.38" stroke="#474747" stroke-width="1"/>
<text x="414.7" y="264.18" font-size="10.8" text-anchor="start" font-weight="normal" fill="#222">40</text>
<line x1="405.7" y1="236.92" x2="409.7" y2="236.92" stroke="#474747" stroke-width="1"/>
<text x="414.7" y="240.72" font-size="10.8" text-anchor="start" font-weight="normal" fill="#222">60</text>
<line x1="405.7" y1="213.46" x2="409.7" y2="213.46" stroke="#474747" stroke-width="1"/>
<text x="414.7" y="217.26" font-size="10.8" text-anchor="start" font-weight="normal" fill="#222">80</text>
<line x1="405.7" y1="190" x2="409.7" y2="190" stroke="#474747" stroke-width="1"/>
<text x="414.7" y="193.8" font-size="10.8" text-anchor="start" font-weight="normal" fill="#222">100</text>
<line x1="405.7" y1="295.57" x2="407.9" y2="295.57" stroke="#474747" stroke-width="1"/>
<line x1="405.7" y1="272.11" x2="407.9" y2="272.11" stroke="#474747" stroke-width="1"/>
<line x1="405.7" y1="248.65" x2="407.9" y2="248.65" stroke="#474747" stroke-width="1"/>
<line x1="405.7" y1="225.19" x2="407.9" y2="225.19" stroke="#474747" stroke-width="1"/>
<line x1="405.7" y1="201.73" x2="407.9" y2="201.73" stroke="#474747" stroke-width="1"/>
<line x1="90.2" y1="307.3" x2="90.2" y2="311.3" stroke="#474747" stroke-width="1"/>
<text x="90.2" y="322" font-size="10.8" text-anchor="middle" font-weight="normal" fill="#222">40</text>
<line x1="147.32" y1="307.3" x2="147.32" y2="311.3" stroke="#474747" stroke-width="1"/>
<text x="147.32" y="322" font-size="10.8" text-anchor="middle" font-weight="normal" fill="#222">60</text>
<line x1="204.44" y1="307.3" x2="204.44" y2="311.3" stroke="#474747" stroke-width="1"/>
<text x="204.44" y="322" font-size="10.8" text-anchor="middle" font-weight="normal" fill="#222">80</text>
<line x1="261.56" y1="307.3" x2="261.56" y2="311.3" stroke="#474747" stroke-width="1"/>
<text x="261.56" y="322" font-size="10.8" text-anchor="middle" font-weight="normal" fill="#222">100</text>
<line x1="318.68" y1="307.3" x2="318.68" y2="311.3" stroke="#474747" stroke-width="1"/>
<text x="318.68" y="322" font-size="10.8" text-anchor="middle" font-weight="normal" fill="#222">120</text>
<line x1="375.8" y1="307.3" x2="375.8" y2="311.3" stroke="#474747" stroke-width="1"/>
<text x="375.8" y="322" font-size="10.8" text-anchor="middle" font-weight="normal" fill="#222">140</text>
<line x1="61.64" y1="307.3" x2="61.64" y2="309.5" stroke="#474747" stroke-width="1"/>
<line x1="118.76" y1="307.3" x2="118.76" y2="309.5" stroke="#474747" stroke-width="1"/>
<line x1="175.88" y1="307.3" x2="175.88" y2="309.5" stroke="#474747" stroke-width="1"/>
<line x1="233" y1="307.3" x2="233" y2="309.5" stroke="#474747" stroke-width="1"/>
<line x1="290.12" y1="307.3" x2="290.12" y2="309.5" stroke="#474747" stroke-width="1"/>
<line x1="347.24" y1="307.3" x2="347.24" y2="309.5" stroke="#474747" stroke-width="1"/>
<line x1="404.36" y1="307.3" x2="404.36" y2="309.5" stroke="#474747" stroke-width="1"/>
<text x="244.8" y="336" font-size="11" text-anchor="middle" font-weight="normal" fill="#222">Cycle number</text>
<text x="15.3" y="242" font-size="11" text-anchor="middle" font-weight="normal" fill="#222" transform="rotate(-90 15.3 242)">Specific capacity ( mAh g<tspan dy="-4" font-size="7">-1</tspan><tspan dy="4">)</tspan></text>
<text x="446" y="242.5" font-size="11" text-anchor="middle" font-weight="normal" fill="#222" transform="rotate(-90 446 242.5)">Coulombic efficiency (%)</text>
<text x="1" y="167.7" font-size="15.5" text-anchor="start" font-weight="bold" fill="#111">c</text>
<text x="117.6" y="222" font-size="11" text-anchor="start" font-weight="normal" fill="#222">120 mA g<tspan dy="-4" font-size="7">-1</tspan></text>
<text x="257.4" y="205" font-size="11" text-anchor="start" font-weight="normal" fill="#222">Average CE 99.91%</text>
<line x1="377.2" y1="195.6" x2="377.2" y2="204.6" stroke="#111" stroke-width="1.1"/>
<line x1="377.2" y1="204.6" x2="397" y2="204.6" stroke="#111" stroke-width="1.1"/>
<polygon points="403.8,204.6 395.4,202.3 395.4,206.9" fill="#111"/>
<text x="110.8" y="280.3" font-size="11" text-anchor="start" font-weight="normal" fill="#222">Li||SPAN</text>
<text x="189" y="279.3" font-size="11" text-anchor="start" font-weight="normal" fill="#222">mass loading: 1.2 mg cm<tspan dy="-4" font-size="7">-2</tspan></text>
<circle cx="67" cy="296.4" r="4.2" fill="#8b5d97" stroke="none" stroke-width="1"/>
<text x="79.4" y="300.2" font-size="11" text-anchor="start" font-weight="normal" fill="#222">1 M LiFSI in DEA/FB (1:1 v/v)</text>
<text x="357.1" y="255.2" font-size="11.4" text-anchor="start" font-weight="normal" fill="#222" font-family='Liberation Serif'>-40 °C</text>
<path d="M344.5 288.51 V272.8 A3.6 3.6 0 0 1 351.7 272.8 V288.51 A5.6 5.6 0 1 1 344.5 288.51 Z" fill="white" stroke="#8b5d97" stroke-width="1.8"/>
<circle cx="348.1" cy="292.8" r="3.3" fill="#1c1c80" stroke="none" stroke-width="1"/>
<rect x="346.9" y="282.05" width="2.4" height="10.75" fill="#1c1c80"/>
<g stroke="#8b5d97" stroke-width="2.8" stroke-linecap="round"><line x1="382.6" y1="281.5" x2="382.6" y2="263.4"/><line x1="382.6" y1="274.98" x2="385.86" y2="272.7"/><line x1="382.6" y1="274.98" x2="379.34" y2="272.7"/><line x1="382.6" y1="269.92" x2="387.64" y2="266.39"/><line x1="382.6" y1="269.92" x2="377.56" y2="266.39"/><line x1="382.6" y1="281.5" x2="366.92" y2="272.45"/><line x1="376.96" y1="278.24" x2="376.61" y2="274.28"/><line x1="376.96" y1="278.24" x2="373.35" y2="279.92"/><line x1="372.57" y1="275.71" x2="372.03" y2="269.58"/><line x1="372.57" y1="275.71" x2="366.99" y2="278.31"/><line x1="382.6" y1="281.5" x2="366.92" y2="290.55"/><line x1="376.96" y1="284.76" x2="373.35" y2="283.08"/><line x1="376.96" y1="284.76" x2="376.61" y2="288.72"/><line x1="372.57" y1="287.29" x2="366.99" y2="284.69"/><line x1="372.57" y1="287.29" x2="372.03" y2="293.42"/><line x1="382.6" y1="281.5" x2="382.6" y2="299.6"/><line x1="382.6" y1="288.02" x2="379.34" y2="290.3"/><line x1="382.6" y1="288.02" x2="385.86" y2="290.3"/><line x1="382.6" y1="293.08" x2="377.56" y2="296.61"/><line x1="382.6" y1="293.08" x2="387.64" y2="296.61"/><line x1="382.6" y1="281.5" x2="398.28" y2="290.55"/><line x1="388.24" y1="284.76" x2="388.59" y2="288.72"/><line x1="388.24" y1="284.76" x2="391.85" y2="283.08"/><line x1="392.63" y1="287.29" x2="393.17" y2="293.42"/><line x1="392.63" y1="287.29" x2="398.21" y2="284.69"/><line x1="382.6" y1="281.5" x2="398.28" y2="272.45"/><line x1="388.24" y1="278.24" x2="391.85" y2="279.92"/><line x1="388.24" y1="278.24" x2="388.59" y2="274.28"/><line x1="392.63" y1="275.71" x2="398.21" y2="278.31"/><line x1="392.63" y1="275.71" x2="393.17" y2="269.58"/></g>
<circle cx="382.6" cy="281.5" r="5.43" fill="#8b5d97" stroke="none" stroke-width="1"/>
<circle cx="382.6" cy="281.5" r="2.35" fill="white" stroke="none" stroke-width="1"/>
<rect x="493.4" y="179" width="159.1" height="128.3" fill="url(#gd)"/>
<circle cx="498.63" cy="218.11" r="1.9" fill="#7a2d7e" stroke="none" stroke-width="1"/>
<circle cx="503.85" cy="218.11" r="1.9" fill="#7a2d7e" stroke="none" stroke-width="1"/>
<circle cx="509.08" cy="218.11" r="1.9" fill="#7a2d7e" stroke="none" stroke-width="1"/>
<circle cx="514.3" cy="218.11" r="1.9" fill="#7a2d7e" stroke="none" stroke-width="1"/>
<circle cx="519.53" cy="218.11" r="1.9" fill="#7a2d7e" stroke="none" stroke-width="1"/>
<circle cx="524.76" cy="226.29" r="1.9" fill="#7a2d7e" stroke="none" stroke-width="1"/>
<circle cx="529.98" cy="226.29" r="1.9" fill="#7a2d7e" stroke="none" stroke-width="1"/>
<circle cx="535.21" cy="226.29" r="1.9" fill="#7a2d7e" stroke="none" stroke-width="1"/>
<circle cx="540.43" cy="226.29" r="1.9" fill="#7a2d7e" stroke="none" stroke-width="1"/>
<circle cx="545.66" cy="226.29" r="1.9" fill="#7a2d7e" stroke="none" stroke-width="1"/>
<circle cx="550.89" cy="232.87" r="1.9" fill="#7a2d7e" stroke="none" stroke-width="1"/>
<circle cx="556.11" cy="232.87" r="1.9" fill="#7a2d7e" stroke="none" stroke-width="1"/>
<circle cx="561.34" cy="232.87" r="1.9" fill="#7a2d7e" stroke="none" stroke-width="1"/>
<circle cx="566.56" cy="232.87" r="1.9" fill="#7a2d7e" stroke="none" stroke-width="1"/>
<circle cx="571.79" cy="232.87" r="1.9" fill="#7a2d7e" stroke="none" stroke-width="1"/>
<circle cx="577.02" cy="259.01" r="1.9" fill="#7a2d7e" stroke="none" stroke-width="1"/>
<circle cx="582.24" cy="258.69" r="1.9" fill="#7a2d7e" stroke="none" stroke-width="1"/>
<circle cx="587.47" cy="258.36" r="1.9" fill="#7a2d7e" stroke="none" stroke-width="1"/>
<circle cx="592.69" cy="258.36" r="1.9" fill="#7a2d7e" stroke="none" stroke-width="1"/>
<circle cx="597.92" cy="257.72" r="1.9" fill="#7a2d7e" stroke="none" stroke-width="1"/>
<circle cx="603.15" cy="293.17" r="1.9" fill="#7a2d7e" stroke="none" stroke-width="1"/>
<circle cx="608.37" cy="293.17" r="1.9" fill="#7a2d7e" stroke="none" stroke-width="1"/>
<circle cx="613.6" cy="293.17" r="1.9" fill="#7a2d7e" stroke="none" stroke-width="1"/>
<circle cx="618.82" cy="293.17" r="1.9" fill="#7a2d7e" stroke="none" stroke-width="1"/>
<circle cx="624.05" cy="293.17" r="1.9" fill="#7a2d7e" stroke="none" stroke-width="1"/>
<circle cx="629.28" cy="220.52" r="1.9" fill="#7a2d7e" stroke="none" stroke-width="1"/>
<circle cx="634.5" cy="220.52" r="1.9" fill="#7a2d7e" stroke="none" stroke-width="1"/>
<circle cx="639.73" cy="220.52" r="1.9" fill="#7a2d7e" stroke="none" stroke-width="1"/>
<circle cx="644.95" cy="220.52" r="1.9" fill="#7a2d7e" stroke="none" stroke-width="1"/>
<circle cx="650.18" cy="220.52" r="1.9" fill="#7a2d7e" stroke="none" stroke-width="1"/>
<circle cx="498.63" cy="186.6" r="1.8" fill="none" stroke="#8a3d8e" stroke-width="0.85"/>
<circle cx="503.85" cy="186.6" r="1.8" fill="none" stroke="#8a3d8e" stroke-width="0.85"/>
<circle cx="509.08" cy="186.6" r="1.8" fill="none" stroke="#8a3d8e" stroke-width="0.85"/>
<circle cx="514.3" cy="185.67" r="1.8" fill="none" stroke="#8a3d8e" stroke-width="0.85"/>
<circle cx="519.53" cy="185.71" r="1.8" fill="none" stroke="#8a3d8e" stroke-width="0.85"/>
<circle cx="524.76" cy="185.79" r="1.8" fill="none" stroke="#8a3d8e" stroke-width="0.85"/>
<circle cx="529.98" cy="185.38" r="1.8" fill="none" stroke="#8a3d8e" stroke-width="0.85"/>
<circle cx="535.21" cy="185.71" r="1.8" fill="none" stroke="#8a3d8e" stroke-width="0.85"/>
<circle cx="540.43" cy="185.83" r="1.8" fill="none" stroke="#8a3d8e" stroke-width="0.85"/>
<circle cx="545.66" cy="185.99" r="1.8" fill="none" stroke="#8a3d8e" stroke-width="0.85"/>
<circle cx="550.89" cy="185.29" r="1.8" fill="none" stroke="#8a3d8e" stroke-width="0.85"/>
<circle cx="556.11" cy="185.5" r="1.8" fill="none" stroke="#8a3d8e" stroke-width="0.85"/>
<circle cx="561.34" cy="185.29" r="1.8" fill="none" stroke="#8a3d8e" stroke-width="0.85"/>
<circle cx="566.56" cy="186.01" r="1.8" fill="none" stroke="#8a3d8e" stroke-width="0.85"/>
<circle cx="571.79" cy="185.89" r="1.8" fill="none" stroke="#8a3d8e" stroke-width="0.85"/>
<circle cx="577.02" cy="185.24" r="1.8" fill="none" stroke="#8a3d8e" stroke-width="0.85"/>
<circle cx="582.24" cy="186.18" r="1.8" fill="none" stroke="#8a3d8e" stroke-width="0.85"/>
<circle cx="587.47" cy="186.16" r="1.8" fill="none" stroke="#8a3d8e" stroke-width="0.85"/>
<circle cx="592.69" cy="183.4" r="1.8" fill="none" stroke="#8a3d8e" stroke-width="0.85"/>
<circle cx="597.92" cy="185.82" r="1.8" fill="none" stroke="#8a3d8e" stroke-width="0.85"/>
<circle cx="603.15" cy="185.36" r="1.8" fill="none" stroke="#8a3d8e" stroke-width="0.85"/>
<circle cx="608.37" cy="186.3" r="1.8" fill="none" stroke="#8a3d8e" stroke-width="0.85"/>
<circle cx="613.6" cy="186.3" r="1.8" fill="none" stroke="#8a3d8e" stroke-width="0.85"/>
<circle cx="618.82" cy="186.3" r="1.8" fill="none" stroke="#8a3d8e" stroke-width="0.85"/>
<circle cx="624.05" cy="186.3" r="1.8" fill="none" stroke="#8a3d8e" stroke-width="0.85"/>
<circle cx="629.28" cy="185.44" r="1.8" fill="none" stroke="#8a3d8e" stroke-width="0.85"/>
<circle cx="634.5" cy="185.23" r="1.8" fill="none" stroke="#8a3d8e" stroke-width="0.85"/>
<circle cx="639.73" cy="185.66" r="1.8" fill="none" stroke="#8a3d8e" stroke-width="0.85"/>
<circle cx="644.95" cy="185.64" r="1.8" fill="none" stroke="#8a3d8e" stroke-width="0.85"/>
<circle cx="650.18" cy="186.04" r="1.8" fill="none" stroke="#8a3d8e" stroke-width="0.85"/>
<line x1="493.4" y1="179" x2="652.5" y2="179" stroke="#474747" stroke-width="1.1"/>
<line x1="493.4" y1="307.3" x2="652.5" y2="307.3" stroke="#474747" stroke-width="1.1"/>
<line x1="493.4" y1="179" x2="493.4" y2="307.3" stroke="#474747" stroke-width="1.1"/>
<line x1="652.5" y1="179" x2="652.5" y2="307.3" stroke="#474747" stroke-width="1.1"/>
<line x1="490" y1="307.3" x2="493.4" y2="307.3" stroke="#474747" stroke-width="1"/>
<text x="488.8" y="311.1" font-size="10.8" text-anchor="end" font-weight="normal" fill="#222">0</text>
<line x1="490" y1="275.23" x2="493.4" y2="275.23" stroke="#474747" stroke-width="1"/>
<text x="488.8" y="279.03" font-size="10.8" text-anchor="end" font-weight="normal" fill="#222">200</text>
<line x1="490" y1="243.15" x2="493.4" y2="243.15" stroke="#474747" stroke-width="1"/>
<text x="488.8" y="246.95" font-size="10.8" text-anchor="end" font-weight="normal" fill="#222">400</text>
<line x1="490" y1="211.08" x2="493.4" y2="211.08" stroke="#474747" stroke-width="1"/>
<text x="488.8" y="214.88" font-size="10.8" text-anchor="end" font-weight="normal" fill="#222">600</text>
<line x1="490" y1="179" x2="493.4" y2="179" stroke="#474747" stroke-width="1"/>
<text x="488.8" y="182.8" font-size="10.8" text-anchor="end" font-weight="normal" fill="#222">800</text>
<line x1="491.2" y1="291.26" x2="493.4" y2="291.26" stroke="#474747" stroke-width="1"/>
<line x1="491.2" y1="259.19" x2="493.4" y2="259.19" stroke="#474747" stroke-width="1"/>
<line x1="491.2" y1="227.11" x2="493.4" y2="227.11" stroke="#474747" stroke-width="1"/>
<line x1="491.2" y1="195.04" x2="493.4" y2="195.04" stroke="#474747" stroke-width="1"/>
<line x1="652.5" y1="307.3" x2="655.9" y2="307.3" stroke="#474747" stroke-width="1"/>
<text x="657.1" y="311.1" font-size="10.8" text-anchor="start" font-weight="normal" fill="#222">0</text>
<line x1="652.5" y1="282.9" x2="655.9" y2="282.9" stroke="#474747" stroke-width="1"/>
<text x="657.1" y="286.7" font-size="10.8" text-anchor="start" font-weight="normal" fill="#222">20</text>
<line x1="652.5" y1="258.5" x2="655.9" y2="258.5" stroke="#474747" stroke-width="1"/>
<text x="657.1" y="262.3" font-size="10.8" text-anchor="start" font-weight="normal" fill="#222">40</text>
<line x1="652.5" y1="234.1" x2="655.9" y2="234.1" stroke="#474747" stroke-width="1"/>
<text x="657.1" y="237.9" font-size="10.8" text-anchor="start" font-weight="normal" fill="#222">60</text>
<line x1="652.5" y1="209.7" x2="655.9" y2="209.7" stroke="#474747" stroke-width="1"/>
<text x="657.1" y="213.5" font-size="10.8" text-anchor="start" font-weight="normal" fill="#222">80</text>
<line x1="652.5" y1="185.3" x2="655.9" y2="185.3" stroke="#474747" stroke-width="1"/>
<text x="657.1" y="189.1" font-size="10.8" text-anchor="start" font-weight="normal" fill="#222">100</text>
<line x1="652.5" y1="295.1" x2="654.7" y2="295.1" stroke="#474747" stroke-width="1"/>
<line x1="652.5" y1="270.7" x2="654.7" y2="270.7" stroke="#474747" stroke-width="1"/>
<line x1="652.5" y1="246.3" x2="654.7" y2="246.3" stroke="#474747" stroke-width="1"/>
<line x1="652.5" y1="221.9" x2="654.7" y2="221.9" stroke="#474747" stroke-width="1"/>
<line x1="652.5" y1="197.5" x2="654.7" y2="197.5" stroke="#474747" stroke-width="1"/>
<line x1="493.4" y1="307.3" x2="493.4" y2="310.3" stroke="#474747" stroke-width="1"/>
<text x="493.4" y="320.2" font-size="10.8" text-anchor="middle" font-weight="normal" fill="#222">0</text>
<line x1="545.66" y1="307.3" x2="545.66" y2="310.3" stroke="#474747" stroke-width="1"/>
<text x="545.66" y="320.2" font-size="10.8" text-anchor="middle" font-weight="normal" fill="#222">10</text>
<line x1="597.92" y1="307.3" x2="597.92" y2="310.3" stroke="#474747" stroke-width="1"/>
<text x="597.92" y="320.2" font-size="10.8" text-anchor="middle" font-weight="normal" fill="#222">20</text>
<line x1="650.18" y1="307.3" x2="650.18" y2="310.3" stroke="#474747" stroke-width="1"/>
<text x="650.18" y="320.2" font-size="10.8" text-anchor="middle" font-weight="normal" fill="#222">30</text>
<line x1="519.53" y1="307.3" x2="519.53" y2="309.5" stroke="#474747" stroke-width="1"/>
<line x1="571.79" y1="307.3" x2="571.79" y2="309.5" stroke="#474747" stroke-width="1"/>
<line x1="624.05" y1="307.3" x2="624.05" y2="309.5" stroke="#474747" stroke-width="1"/>
<text x="579.5" y="332" font-size="11" text-anchor="middle" font-weight="normal" fill="#222">Cycle number</text>
<text x="466.5" y="243" font-size="11" text-anchor="middle" font-weight="normal" fill="#222" transform="rotate(-90 466.5 243)">Specific capacity (mAh g<tspan dy="-4" font-size="7">-1</tspan><tspan dy="4">)</tspan></text>
<text x="682" y="246" font-size="11" text-anchor="middle" font-weight="normal" fill="#222" transform="rotate(-90 682 246)">Coulombic efficiency (%)</text>
<text x="447.6" y="176.6" font-size="15.5" text-anchor="start" font-weight="bold" fill="#111">d</text>
<text x="497" y="213.2" font-size="11" text-anchor="start" font-weight="normal" fill="#222">25 <tspan font-family="Liberation Serif">°C</tspan></text>
<text x="526.8" y="219.8" font-size="11" text-anchor="start" font-weight="normal" fill="#222">0 <tspan font-family="Liberation Serif">°C</tspan></text>
<text x="548.7" y="228.5" font-size="11" text-anchor="start" font-weight="normal" fill="#222">-20 <tspan font-family="Liberation Serif">°C</tspan></text>
<text x="571.1" y="253.2" font-size="11" text-anchor="start" font-weight="normal" fill="#222">-40 <tspan font-family="Liberation Serif">°C</tspan></text>
<text x="597.4" y="288.5" font-size="11" text-anchor="start" font-weight="normal" fill="#222">-60 <tspan font-family="Liberation Serif">°C</tspan></text>
<text x="625.4" y="214" font-size="11" text-anchor="start" font-weight="normal" fill="#222">25 <tspan font-family="Liberation Serif">°C</tspan></text>
<text x="514.6" y="274.3" font-size="11" text-anchor="start" font-weight="normal" fill="#222">LiIISPAN</text>
<text x="515.4" y="290" font-size="11" text-anchor="start" font-weight="normal" fill="#222">60 mA g<tspan dy="-4" font-size="7">-1</tspan></text>
<text x="495.6" y="304.8" font-size="10.8" text-anchor="start" font-weight="normal" fill="#222">1 M LiFSI in DEA/FB (1:1 v/v)</text>
<line x1="633.3" y1="187.8" x2="633.3" y2="196.2" stroke="#111" stroke-width="0.9"/>
<line x1="633.3" y1="196.2" x2="647" y2="196.2" stroke="#111" stroke-width="0.9"/>
<polygon points="651.7,196.2 646.9,194.6 646.9,197.8" fill="#111"/>
<polyline points="75.07,390.54 77.84,391.72 80.61,392.9 83.38,393.78 86.15,394.18 88.92,394.57 91.69,394.71 94.46,394.86 97.23,395.01 100,395.16 102.77,395.19 105.54,395.22 108.31,395.24 111.08,395.27 113.85,395.3 116.62,395.33 119.39,395.36 122.16,395.39 124.93,395.42 127.7,395.45 130.47,395.46 133.24,395.47 136.01,395.48 138.78,395.49 141.55,395.5 144.32,395.51 147.09,395.52 149.86,395.53 152.63,395.54 155.4,395.55 158.17,395.56 160.94,395.57 163.71,395.58 166.48,395.59 169.25,395.6 172.02,395.61 174.79,395.62 177.56,395.63 180.33,395.64 183.1,395.65 185.87,395.65 188.64,395.65 191.41,395.65 194.18,395.65 196.95,395.65 199.72,395.65 202.49,395.65 205.26,395.65 208.03,395.65 210.8,395.65 213.57,395.65 216.34,395.65 219.11,395.65 221.88,395.65 224.65,395.65 227.42,395.65 230.19,395.65 232.96,395.65 235.73,395.65 238.5,395.65 241.27,395.65 244.04,395.65 246.81,395.65 249.58,395.65 252.35,395.65 255.12,395.65 257.89,395.65 260.66,395.65 263.43,395.65 266.2,395.65 268.97,395.65 271.74,395.65 274.51,395.65 277.28,395.65 280.05,395.65 282.82,395.65 285.59,395.65 288.36,395.65 291.13,395.65 293.9,395.65 296.67,395.65 299.44,395.65 302.21,395.65 304.98,395.65 307.75,395.65" fill="none" stroke="#ef8a3a" stroke-width="4.6" stroke-linejoin="round" stroke-linecap="round"/>
<circle cx="75.07" cy="380.26" r="2.4" fill="white" stroke="#ef8a3a" stroke-width="1.0"/>
<circle cx="77.84" cy="359.06" r="1.9" fill="white" stroke="#ef8a3a" stroke-width="1.0"/>
<circle cx="80.61" cy="358.16" r="1.9" fill="white" stroke="#ef8a3a" stroke-width="1.0"/>
<circle cx="83.38" cy="357.57" r="1.9" fill="white" stroke="#ef8a3a" stroke-width="1.0"/>
<circle cx="86.15" cy="356.98" r="1.9" fill="white" stroke="#ef8a3a" stroke-width="1.0"/>
<circle cx="88.92" cy="356.65" r="1.9" fill="white" stroke="#ef8a3a" stroke-width="1.0"/>
<circle cx="91.69" cy="356.32" r="1.9" fill="white" stroke="#ef8a3a" stroke-width="1.0"/>
<circle cx="94.46" cy="355.99" r="1.9" fill="white" stroke="#ef8a3a" stroke-width="1.0"/>
<circle cx="97.23" cy="355.79" r="1.9" fill="white" stroke="#ef8a3a" stroke-width="1.0"/>
<circle cx="100" cy="355.59" r="1.9" fill="white" stroke="#ef8a3a" stroke-width="1.0"/>
<circle cx="102.77" cy="355.38" r="1.9" fill="white" stroke="#ef8a3a" stroke-width="1.0"/>
<circle cx="105.54" cy="355.18" r="1.9" fill="white" stroke="#ef8a3a" stroke-width="1.0"/>
<circle cx="108.31" cy="355.18" r="1.9" fill="white" stroke="#ef8a3a" stroke-width="1.0"/>
<circle cx="111.08" cy="355.18" r="1.9" fill="white" stroke="#ef8a3a" stroke-width="1.0"/>
<circle cx="113.85" cy="355.18" r="1.9" fill="white" stroke="#ef8a3a" stroke-width="1.0"/>
<circle cx="116.62" cy="355.18" r="1.9" fill="white" stroke="#ef8a3a" stroke-width="1.0"/>
<circle cx="119.39" cy="355.18" r="1.9" fill="white" stroke="#ef8a3a" stroke-width="1.0"/>
<circle cx="122.16" cy="355.18" r="1.9" fill="white" stroke="#ef8a3a" stroke-width="1.0"/>
<circle cx="124.93" cy="355.18" r="1.9" fill="white" stroke="#ef8a3a" stroke-width="1.0"/>
<circle cx="127.7" cy="355.18" r="1.9" fill="white" stroke="#ef8a3a" stroke-width="1.0"/>
<circle cx="130.47" cy="355.18" r="1.9" fill="white" stroke="#ef8a3a" stroke-width="1.0"/>
<circle cx="133.24" cy="355.18" r="1.9" fill="white" stroke="#ef8a3a" stroke-width="1.0"/>
<circle cx="136.01" cy="355.18" r="1.9" fill="white" stroke="#ef8a3a" stroke-width="1.0"/>
<circle cx="138.78" cy="355.18" r="1.9" fill="white" stroke="#ef8a3a" stroke-width="1.0"/>
<circle cx="141.55" cy="355.18" r="1.9" fill="white" stroke="#ef8a3a" stroke-width="1.0"/>
<circle cx="144.32" cy="355.18" r="1.9" fill="white" stroke="#ef8a3a" stroke-width="1.0"/>
<circle cx="147.09" cy="355.18" r="1.9" fill="white" stroke="#ef8a3a" stroke-width="1.0"/>
<circle cx="149.86" cy="355.18" r="1.9" fill="white" stroke="#ef8a3a" stroke-width="1.0"/>
<circle cx="152.63" cy="355.18" r="1.9" fill="white" stroke="#ef8a3a" stroke-width="1.0"/>
<circle cx="155.4" cy="355.18" r="1.9" fill="white" stroke="#ef8a3a" stroke-width="1.0"/>
<circle cx="158.17" cy="355.18" r="1.9" fill="white" stroke="#ef8a3a" stroke-width="1.0"/>
<circle cx="160.94" cy="355.18" r="1.9" fill="white" stroke="#ef8a3a" stroke-width="1.0"/>
<circle cx="163.71" cy="355.18" r="1.9" fill="white" stroke="#ef8a3a" stroke-width="1.0"/>
<circle cx="166.48" cy="355.18" r="1.9" fill="white" stroke="#ef8a3a" stroke-width="1.0"/>
<circle cx="169.25" cy="355.18" r="1.9" fill="white" stroke="#ef8a3a" stroke-width="1.0"/>
<circle cx="172.02" cy="355.18" r="1.9" fill="white" stroke="#ef8a3a" stroke-width="1.0"/>
<circle cx="174.79" cy="355.18" r="1.9" fill="white" stroke="#ef8a3a" stroke-width="1.0"/>
<circle cx="177.56" cy="355.18" r="1.9" fill="white" stroke="#ef8a3a" stroke-width="1.0"/>
<circle cx="180.33" cy="355.18" r="1.9" fill="white" stroke="#ef8a3a" stroke-width="1.0"/>
<circle cx="183.1" cy="355.18" r="1.9" fill="white" stroke="#ef8a3a" stroke-width="1.0"/>
<circle cx="185.87" cy="355.18" r="1.9" fill="white" stroke="#ef8a3a" stroke-width="1.0"/>
<circle cx="188.64" cy="355.18" r="1.9" fill="white" stroke="#ef8a3a" stroke-width="1.0"/>
<circle cx="191.41" cy="355.18" r="1.9" fill="white" stroke="#ef8a3a" stroke-width="1.0"/>
<circle cx="194.18" cy="355.18" r="1.9" fill="white" stroke="#ef8a3a" stroke-width="1.0"/>
<circle cx="196.95" cy="355.18" r="1.9" fill="white" stroke="#ef8a3a" stroke-width="1.0"/>
<circle cx="199.72" cy="355.18" r="1.9" fill="white" stroke="#ef8a3a" stroke-width="1.0"/>
<circle cx="202.49" cy="355.18" r="1.9" fill="white" stroke="#ef8a3a" stroke-width="1.0"/>
<circle cx="205.26" cy="355.18" r="1.9" fill="white" stroke="#ef8a3a" stroke-width="1.0"/>
<circle cx="208.03" cy="355.18" r="1.9" fill="white" stroke="#ef8a3a" stroke-width="1.0"/>
<circle cx="210.8" cy="355.18" r="1.9" fill="white" stroke="#ef8a3a" stroke-width="1.0"/>
<circle cx="213.57" cy="355.18" r="1.9" fill="white" stroke="#ef8a3a" stroke-width="1.0"/>
<circle cx="216.34" cy="355.18" r="1.9" fill="white" stroke="#ef8a3a" stroke-width="1.0"/>
<circle cx="219.11" cy="355.18" r="1.9" fill="white" stroke="#ef8a3a" stroke-width="1.0"/>
<circle cx="221.88" cy="355.18" r="1.9" fill="white" stroke="#ef8a3a" stroke-width="1.0"/>
<circle cx="224.65" cy="355.18" r="1.9" fill="white" stroke="#ef8a3a" stroke-width="1.0"/>
<circle cx="227.42" cy="355.18" r="1.9" fill="white" stroke="#ef8a3a" stroke-width="1.0"/>
<circle cx="230.19" cy="355.18" r="1.9" fill="white" stroke="#ef8a3a" stroke-width="1.0"/>
<circle cx="232.96" cy="355.18" r="1.9" fill="white" stroke="#ef8a3a" stroke-width="1.0"/>
<circle cx="235.73" cy="355.18" r="1.9" fill="white" stroke="#ef8a3a" stroke-width="1.0"/>
<circle cx="238.5" cy="355.18" r="1.9" fill="white" stroke="#ef8a3a" stroke-width="1.0"/>
<circle cx="241.27" cy="355.18" r="1.9" fill="white" stroke="#ef8a3a" stroke-width="1.0"/>
<circle cx="244.04" cy="355.18" r="1.9" fill="white" stroke="#ef8a3a" stroke-width="1.0"/>
<circle cx="246.81" cy="355.18" r="1.9" fill="white" stroke="#ef8a3a" stroke-width="1.0"/>
<circle cx="249.58" cy="355.18" r="1.9" fill="white" stroke="#ef8a3a" stroke-width="1.0"/>
<circle cx="252.35" cy="355.18" r="1.9" fill="white" stroke="#ef8a3a" stroke-width="1.0"/>
<circle cx="255.12" cy="355.18" r="1.9" fill="white" stroke="#ef8a3a" stroke-width="1.0"/>
<circle cx="257.89" cy="355.18" r="1.9" fill="white" stroke="#ef8a3a" stroke-width="1.0"/>
<circle cx="260.66" cy="355.18" r="1.9" fill="white" stroke="#ef8a3a" stroke-width="1.0"/>
<circle cx="263.43" cy="355.18" r="1.9" fill="white" stroke="#ef8a3a" stroke-width="1.0"/>
<circle cx="266.2" cy="355.18" r="1.9" fill="white" stroke="#ef8a3a" stroke-width="1.0"/>
<circle cx="268.97" cy="355.18" r="1.9" fill="white" stroke="#ef8a3a" stroke-width="1.0"/>
<circle cx="271.74" cy="355.18" r="1.9" fill="white" stroke="#ef8a3a" stroke-width="1.0"/>
<circle cx="274.51" cy="355.18" r="1.9" fill="white" stroke="#ef8a3a" stroke-width="1.0"/>
<circle cx="277.28" cy="355.18" r="1.9" fill="white" stroke="#ef8a3a" stroke-width="1.0"/>
<circle cx="280.05" cy="355.18" r="1.9" fill="white" stroke="#ef8a3a" stroke-width="1.0"/>
<circle cx="282.82" cy="355.18" r="1.9" fill="white" stroke="#ef8a3a" stroke-width="1.0"/>
<circle cx="285.59" cy="355.18" r="1.9" fill="white" stroke="#ef8a3a" stroke-width="1.0"/>
<circle cx="288.36" cy="355.18" r="1.9" fill="white" stroke="#ef8a3a" stroke-width="1.0"/>
<circle cx="291.13" cy="355.18" r="1.9" fill="white" stroke="#ef8a3a" stroke-width="1.0"/>
<circle cx="293.9" cy="355.18" r="1.9" fill="white" stroke="#ef8a3a" stroke-width="1.0"/>
<circle cx="296.67" cy="355.18" r="1.9" fill="white" stroke="#ef8a3a" stroke-width="1.0"/>
<circle cx="299.44" cy="355.18" r="1.9" fill="white" stroke="#ef8a3a" stroke-width="1.0"/>
<circle cx="302.21" cy="355.18" r="1.9" fill="white" stroke="#ef8a3a" stroke-width="1.0"/>
<circle cx="304.98" cy="355.18" r="1.9" fill="white" stroke="#ef8a3a" stroke-width="1.0"/>
<circle cx="307.75" cy="355.18" r="1.9" fill="white" stroke="#ef8a3a" stroke-width="1.0"/>
<line x1="72.3" y1="346.3" x2="309.3" y2="346.3" stroke="#474747" stroke-width="1.1"/>
<line x1="72.3" y1="445.2" x2="309.3" y2="445.2" stroke="#474747" stroke-width="1.1"/>
<line x1="72.3" y1="346.3" x2="72.3" y2="445.2" stroke="#474747" stroke-width="1.1"/>
<line x1="309.3" y1="346.3" x2="309.3" y2="445.2" stroke="#8a8a8a" stroke-width="1.5"/>
<line x1="35" y1="346.6" x2="35" y2="445.4" stroke="#8a8a8a" stroke-width="1.5"/>
<line x1="32.4" y1="445.4" x2="35" y2="445.4" stroke="#8a8a8a" stroke-width="1"/>
<text x="31.2" y="448.8" font-size="9.8" text-anchor="end" font-weight="normal" fill="#222">0</text>
<line x1="32.4" y1="421.9" x2="35" y2="421.9" stroke="#8a8a8a" stroke-width="1"/>
<text x="31.2" y="425.3" font-size="9.8" text-anchor="end" font-weight="normal" fill="#222">1</text>
<line x1="32.4" y1="398.4" x2="35" y2="398.4" stroke="#8a8a8a" stroke-width="1"/>
<text x="31.2" y="401.8" font-size="9.8" text-anchor="end" font-weight="normal" fill="#222">2</text>
<line x1="32.4" y1="374.9" x2="35" y2="374.9" stroke="#8a8a8a" stroke-width="1"/>
<text x="31.2" y="378.3" font-size="9.8" text-anchor="end" font-weight="normal" fill="#222">3</text>
<line x1="32.4" y1="351.4" x2="35" y2="351.4" stroke="#8a8a8a" stroke-width="1"/>
<text x="31.2" y="354.8" font-size="9.8" text-anchor="end" font-weight="normal" fill="#222">4</text>
<line x1="33.5" y1="433.65" x2="35" y2="433.65" stroke="#8a8a8a" stroke-width="1"/>
<line x1="33.5" y1="410.15" x2="35" y2="410.15" stroke="#8a8a8a" stroke-width="1"/>
<line x1="33.5" y1="386.65" x2="35" y2="386.65" stroke="#8a8a8a" stroke-width="1"/>
<line x1="33.5" y1="363.15" x2="35" y2="363.15" stroke="#8a8a8a" stroke-width="1"/>
<line x1="69.9" y1="445.2" x2="72.3" y2="445.2" stroke="#474747" stroke-width="1"/>
<text x="68.7" y="448.6" font-size="9.8" text-anchor="end" font-weight="normal" fill="#222">0</text>
<line x1="69.9" y1="425.57" x2="72.3" y2="425.57" stroke="#474747" stroke-width="1"/>
<text x="68.7" y="428.97" font-size="9.8" text-anchor="end" font-weight="normal" fill="#222">200</text>
<line x1="69.9" y1="405.95" x2="72.3" y2="405.95" stroke="#474747" stroke-width="1"/>
<text x="68.7" y="409.35" font-size="9.8" text-anchor="end" font-weight="normal" fill="#222">400</text>
<line x1="69.9" y1="386.32" x2="72.3" y2="386.32" stroke="#474747" stroke-width="1"/>
<text x="68.7" y="389.72" font-size="9.8" text-anchor="end" font-weight="normal" fill="#222">600</text>
<line x1="69.9" y1="366.7" x2="72.3" y2="366.7" stroke="#474747" stroke-width="1"/>
<text x="68.7" y="370.1" font-size="9.8" text-anchor="end" font-weight="normal" fill="#222">800</text>
<line x1="70.9" y1="435.39" x2="72.3" y2="435.39" stroke="#474747" stroke-width="1"/>
<line x1="70.9" y1="415.76" x2="72.3" y2="415.76" stroke="#474747" stroke-width="1"/>
<line x1="70.9" y1="396.14" x2="72.3" y2="396.14" stroke="#474747" stroke-width="1"/>
<line x1="70.9" y1="376.51" x2="72.3" y2="376.51" stroke="#474747" stroke-width="1"/>
<line x1="70.9" y1="356.89" x2="72.3" y2="356.89" stroke="#474747" stroke-width="1"/>
<line x1="309.3" y1="445.2" x2="311.7" y2="445.2" stroke="#8a8a8a" stroke-width="1"/>
<text x="311.9" y="448.6" font-size="9.8" text-anchor="start" font-weight="normal" fill="#222">0</text>
<line x1="309.3" y1="427.16" x2="311.7" y2="427.16" stroke="#8a8a8a" stroke-width="1"/>
<text x="311.9" y="430.56" font-size="9.8" text-anchor="start" font-weight="normal" fill="#222">20</text>
<line x1="309.3" y1="409.12" x2="311.7" y2="409.12" stroke="#8a8a8a" stroke-width="1"/>
<text x="311.9" y="412.52" font-size="9.8" text-anchor="start" font-weight="normal" fill="#222">40</text>
<line x1="309.3" y1="391.08" x2="311.7" y2="391.08" stroke="#8a8a8a" stroke-width="1"/>
<text x="311.9" y="394.48" font-size="9.8" text-anchor="start" font-weight="normal" fill="#222">60</text>
<line x1="309.3" y1="373.04" x2="311.7" y2="373.04" stroke="#8a8a8a" stroke-width="1"/>
<text x="311.9" y="376.44" font-size="9.8" text-anchor="start" font-weight="normal" fill="#222">80</text>
<line x1="309.3" y1="355" x2="311.7" y2="355" stroke="#8a8a8a" stroke-width="1"/>
<text x="311.9" y="358.4" font-size="9.8" text-anchor="start" font-weight="normal" fill="#222">100</text>
<line x1="309.3" y1="436.18" x2="310.7" y2="436.18" stroke="#8a8a8a" stroke-width="1"/>
<line x1="309.3" y1="418.14" x2="310.7" y2="418.14" stroke="#8a8a8a" stroke-width="1"/>
<line x1="309.3" y1="400.1" x2="310.7" y2="400.1" stroke="#8a8a8a" stroke-width="1"/>
<line x1="309.3" y1="382.06" x2="310.7" y2="382.06" stroke="#8a8a8a" stroke-width="1"/>
<line x1="309.3" y1="364.02" x2="310.7" y2="364.02" stroke="#8a8a8a" stroke-width="1"/>
<line x1="72.3" y1="445.2" x2="72.3" y2="447.6" stroke="#474747" stroke-width="1"/>
<text x="72.3" y="455.3" font-size="9.8" text-anchor="middle" font-weight="normal" fill="#222">0</text>
<line x1="100" y1="445.2" x2="100" y2="447.6" stroke="#474747" stroke-width="1"/>
<text x="100" y="455.3" font-size="9.8" text-anchor="middle" font-weight="normal" fill="#222">10</text>
<line x1="127.7" y1="445.2" x2="127.7" y2="447.6" stroke="#474747" stroke-width="1"/>
<text x="127.7" y="455.3" font-size="9.8" text-anchor="middle" font-weight="normal" fill="#222">20</text>
<line x1="155.4" y1="445.2" x2="155.4" y2="447.6" stroke="#474747" stroke-width="1"/>
<text x="155.4" y="455.3" font-size="9.8" text-anchor="middle" font-weight="normal" fill="#222">30</text>
<line x1="183.1" y1="445.2" x2="183.1" y2="447.6" stroke="#474747" stroke-width="1"/>
<text x="183.1" y="455.3" font-size="9.8" text-anchor="middle" font-weight="normal" fill="#222">40</text>
<line x1="210.8" y1="445.2" x2="210.8" y2="447.6" stroke="#474747" stroke-width="1"/>
<text x="210.8" y="455.3" font-size="9.8" text-anchor="middle" font-weight="normal" fill="#222">50</text>
<line x1="238.5" y1="445.2" x2="238.5" y2="447.6" stroke="#474747" stroke-width="1"/>
<text x="238.5" y="455.3" font-size="9.8" text-anchor="middle" font-weight="normal" fill="#222">60</text>
<line x1="266.2" y1="445.2" x2="266.2" y2="447.6" stroke="#474747" stroke-width="1"/>
<text x="266.2" y="455.3" font-size="9.8" text-anchor="middle" font-weight="normal" fill="#222">70</text>
<line x1="293.9" y1="445.2" x2="293.9" y2="447.6" stroke="#474747" stroke-width="1"/>
<text x="293.9" y="455.3" font-size="9.8" text-anchor="middle" font-weight="normal" fill="#222">80</text>
<line x1="86.15" y1="445.2" x2="86.15" y2="446.6" stroke="#474747" stroke-width="1"/>
<line x1="113.85" y1="445.2" x2="113.85" y2="446.6" stroke="#474747" stroke-width="1"/>
<line x1="141.55" y1="445.2" x2="141.55" y2="446.6" stroke="#474747" stroke-width="1"/>
<line x1="169.25" y1="445.2" x2="169.25" y2="446.6" stroke="#474747" stroke-width="1"/>
<line x1="196.95" y1="445.2" x2="196.95" y2="446.6" stroke="#474747" stroke-width="1"/>
<line x1="224.65" y1="445.2" x2="224.65" y2="446.6" stroke="#474747" stroke-width="1"/>
<line x1="252.35" y1="445.2" x2="252.35" y2="446.6" stroke="#474747" stroke-width="1"/>
<line x1="280.05" y1="445.2" x2="280.05" y2="446.6" stroke="#474747" stroke-width="1"/>
<line x1="307.75" y1="445.2" x2="307.75" y2="446.6" stroke="#474747" stroke-width="1"/>
<text x="199.8" y="467" font-size="9.8" text-anchor="middle" font-weight="normal" fill="#222">Cycle number</text>
<text x="20.3" y="395.7" font-size="9.8" text-anchor="middle" font-weight="normal" fill="#222" transform="rotate(-90 20.3 395.7)">Areal capacity (mAh cm<tspan dy="-3.5" font-size="6.5">-2</tspan><tspan dy="3.5">)</tspan></text>
<text x="48" y="395.7" font-size="9.8" text-anchor="middle" font-weight="normal" fill="#222" transform="rotate(-90 48 395.7)">Specific capacity (mAh g<tspan dy="-3.5" font-size="6.5">-1</tspan><tspan dy="3.5">)</tspan></text>
<text x="336" y="398" font-size="9.8" text-anchor="middle" font-weight="normal" fill="#222" transform="rotate(-90 336 398)">Coulombic efficiency (%)</text>
<text x="4.7" y="332.9" font-size="15.5" text-anchor="start" font-weight="bold" fill="#111">e</text>
<text x="213" y="391" font-size="9.8" text-anchor="start" font-weight="normal" fill="#222">120 mA g<tspan dy="-3.5" font-size="6.5">-1</tspan></text>
<text x="124.1" y="411.2" font-size="9.8" text-anchor="start" font-weight="normal" fill="#222">25 <tspan font-family="Liberation Serif">°C</tspan></text>
<circle cx="161.7" cy="409.3" r="2.9" fill="#ef8a3a" stroke="none" stroke-width="1"/>
<text x="172.5" y="412.4" font-size="9.8" text-anchor="start" font-weight="normal" fill="#222">1 M LiFSI in DEA/FB (1:1 v/v)</text>
<text x="75.1" y="430" font-size="9.8" text-anchor="start" font-weight="normal" fill="#222">80 μm Li ll 2.5 mAh cm<tspan dy="-3.5" font-size="6.5">-2</tspan><tspan dy="3.5"> SPAN</tspan></text>
<text x="107.4" y="442.5" font-size="9.8" text-anchor="start" font-weight="normal" fill="#222">45 μL electrolyte</text>
<line x1="291" y1="359.8" x2="291" y2="365.6" stroke="#111" stroke-width="0.9"/>
<line x1="291" y1="365.6" x2="303" y2="365.6" stroke="#111" stroke-width="0.9"/>
<polygon points="307.4,365.6 302.8,364.1 302.8,367.1" fill="#111"/>
<g>
<linearGradient id="pg" x1="0" y1="0" x2="1" y2="1"><stop offset="0" stop-color="#a3a5aa"/><stop offset="0.5" stop-color="#b3b5b9"/><stop offset="1" stop-color="#9fa1a6"/></linearGradient>
<rect x="514.8" y="406.1" width="36.8" height="34.6" fill="url(#pg)"/>
<circle cx="532.9" cy="423.2" r="10" fill="#c6cad0" stroke="#b9bdc3" stroke-width="0.8"/>
<circle cx="532.9" cy="423.2" r="8.3" fill="none" stroke="#d9a0a0" stroke-width="1.1" stroke-dasharray="0.9 1.2"/>
<path d="M533.2 419.3 C535.8 418.6 537.6 420.6 536.8 423.2 C536.3 425.8 534.6 427.6 533.2 426.8 C531.8 426.3 531.6 423.3 532.2 421.3 Z" fill="#e0432f"/>
<circle cx="528.6" cy="423.4" r="1.2" fill="#d85a48" stroke="none" stroke-width="1"/>
<rect x="551.6" y="415.8" width="14.9" height="2.6" fill="#7e7670"/>
<rect x="551.6" y="430.4" width="14.9" height="2.2" fill="#a8a3a0"/>
<rect x="553" y="431" width="12" height="1" fill="#6e6a68"/>
<linearGradient id="cu" x1="0" y1="0" x2="1" y2="1"><stop offset="0" stop-color="#d48466"/><stop offset="1" stop-color="#e9b49c"/></linearGradient>
<linearGradient id="gr1" x1="0" y1="0" x2="1" y2="0"><stop offset="0" stop-color="#c8c8c8"/><stop offset="0.45" stop-color="#6a6a6a"/><stop offset="1" stop-color="#e0e0e0"/></linearGradient>
<linearGradient id="gr2" x1="0" y1="0" x2="1" y2="0"><stop offset="0" stop-color="#9a9a9a"/><stop offset="0.4" stop-color="#1e1e1e"/><stop offset="1" stop-color="#d8d8d8"/></linearGradient>
<polygon points="568.2,426 606,428.5 595,439.5" fill="url(#cu)"/>
<polygon points="568.2,424.6 585,425.4 605,427 600,429 585,428.4 568.2,426.4" fill="#d4d4d4"/>
<polygon points="568.2,423.6 585,423.2 603,424.4 598,426.6 585,426 568.2,425.4" fill="url(#gr2)"/>
<polygon points="568.2,422.6 586,421.6 607,417.6 606,419.6 588,424.4 568.2,424.2" fill="url(#gr1)"/>
<line x1="607" y1="418" x2="611.2" y2="414.2" stroke="#444" stroke-width="0.5"/>
<line x1="607.2" y1="427.4" x2="612.4" y2="427.4" stroke="#444" stroke-width="0.5"/>
<line x1="605.2" y1="434.4" x2="611" y2="438" stroke="#444" stroke-width="0.5"/>
<text x="611.1" y="415.6" font-size="5.2" text-anchor="start" font-weight="normal" fill="#222">3.3 mAh cm<tspan dy="-1.8" font-size="3.4">-2</tspan></text>
<text x="618.4" y="422" font-size="5.2" text-anchor="start" font-weight="normal" fill="#222">SPAN</text>
<text x="613.4" y="429.3" font-size="5.2" text-anchor="start" font-weight="normal" fill="#222">Celgard</text>
<text x="612.1" y="439.9" font-size="5.2" text-anchor="start" font-weight="normal" fill="#222">50 μm Li</text>
</g>
<circle cx="380.19" cy="379.74" r="2.25" fill="white" stroke="#f08838" stroke-width="1.0"/>
<circle cx="385.58" cy="357.11" r="2.25" fill="white" stroke="#f08838" stroke-width="1.0"/>
<circle cx="390.97" cy="354.44" r="2.25" fill="white" stroke="#f08838" stroke-width="1.0"/>
<circle cx="396.36" cy="351.76" r="2.25" fill="white" stroke="#f08838" stroke-width="1.0"/>
<circle cx="401.75" cy="350.43" r="2.25" fill="white" stroke="#f08838" stroke-width="1.0"/>
<circle cx="407.14" cy="349.54" r="2.25" fill="white" stroke="#f08838" stroke-width="1.0"/>
<circle cx="412.53" cy="349.18" r="2.25" fill="white" stroke="#f08838" stroke-width="1.0"/>
<circle cx="417.92" cy="348.82" r="2.25" fill="white" stroke="#f08838" stroke-width="1.0"/>
<circle cx="423.31" cy="348.82" r="2.25" fill="white" stroke="#f08838" stroke-width="1.0"/>
<circle cx="428.7" cy="348.81" r="2.25" fill="white" stroke="#f08838" stroke-width="1.0"/>
<circle cx="434.09" cy="348.8" r="2.25" fill="white" stroke="#f08838" stroke-width="1.0"/>
<circle cx="439.48" cy="348.79" r="2.25" fill="white" stroke="#f08838" stroke-width="1.0"/>
<circle cx="444.87" cy="348.78" r="2.25" fill="white" stroke="#f08838" stroke-width="1.0"/>
<circle cx="450.26" cy="348.78" r="2.25" fill="white" stroke="#f08838" stroke-width="1.0"/>
<circle cx="455.65" cy="348.77" r="2.25" fill="white" stroke="#f08838" stroke-width="1.0"/>
<circle cx="461.04" cy="348.76" r="2.25" fill="white" stroke="#f08838" stroke-width="1.0"/>
<circle cx="466.43" cy="348.75" r="2.25" fill="white" stroke="#f08838" stroke-width="1.0"/>
<circle cx="471.82" cy="348.74" r="2.25" fill="white" stroke="#f08838" stroke-width="1.0"/>
<circle cx="477.21" cy="348.73" r="2.25" fill="white" stroke="#f08838" stroke-width="1.0"/>
<circle cx="482.6" cy="348.73" r="2.25" fill="white" stroke="#f08838" stroke-width="1.0"/>
<circle cx="487.99" cy="348.72" r="2.25" fill="white" stroke="#f08838" stroke-width="1.0"/>
<circle cx="493.38" cy="348.71" r="2.25" fill="white" stroke="#f08838" stroke-width="1.0"/>
<circle cx="498.77" cy="348.7" r="2.25" fill="white" stroke="#f08838" stroke-width="1.0"/>
<circle cx="504.16" cy="348.69" r="2.25" fill="white" stroke="#f08838" stroke-width="1.0"/>
<circle cx="509.55" cy="348.69" r="2.25" fill="white" stroke="#f08838" stroke-width="1.0"/>
<circle cx="514.94" cy="348.68" r="2.25" fill="white" stroke="#f08838" stroke-width="1.0"/>
<circle cx="520.33" cy="348.67" r="2.25" fill="white" stroke="#f08838" stroke-width="1.0"/>
<circle cx="525.72" cy="348.66" r="2.25" fill="white" stroke="#f08838" stroke-width="1.0"/>
<circle cx="531.11" cy="348.65" r="2.25" fill="white" stroke="#f08838" stroke-width="1.0"/>
<circle cx="536.5" cy="348.65" r="2.25" fill="white" stroke="#f08838" stroke-width="1.0"/>
<circle cx="541.89" cy="348.67" r="2.25" fill="white" stroke="#f08838" stroke-width="1.0"/>
<circle cx="547.28" cy="348.7" r="2.25" fill="white" stroke="#f08838" stroke-width="1.0"/>
<circle cx="552.67" cy="348.73" r="2.25" fill="white" stroke="#f08838" stroke-width="1.0"/>
<circle cx="558.06" cy="348.75" r="2.25" fill="white" stroke="#f08838" stroke-width="1.0"/>
<circle cx="563.45" cy="348.78" r="2.25" fill="white" stroke="#f08838" stroke-width="1.0"/>
<circle cx="568.84" cy="348.81" r="2.25" fill="white" stroke="#f08838" stroke-width="1.0"/>
<circle cx="574.23" cy="348.83" r="2.25" fill="white" stroke="#f08838" stroke-width="1.0"/>
<circle cx="579.62" cy="348.86" r="2.25" fill="white" stroke="#f08838" stroke-width="1.0"/>
<circle cx="585.01" cy="348.89" r="2.25" fill="white" stroke="#f08838" stroke-width="1.0"/>
<circle cx="590.4" cy="348.91" r="2.25" fill="white" stroke="#f08838" stroke-width="1.0"/>
<circle cx="595.79" cy="348.99" r="2.25" fill="white" stroke="#f08838" stroke-width="1.0"/>
<circle cx="601.18" cy="349.07" r="2.25" fill="white" stroke="#f08838" stroke-width="1.0"/>
<circle cx="606.57" cy="349.15" r="2.25" fill="white" stroke="#f08838" stroke-width="1.0"/>
<circle cx="611.96" cy="349.23" r="2.25" fill="white" stroke="#f08838" stroke-width="1.0"/>
<circle cx="617.35" cy="349.31" r="2.25" fill="white" stroke="#f08838" stroke-width="1.0"/>
<circle cx="622.74" cy="349.39" r="2.25" fill="white" stroke="#f08838" stroke-width="1.0"/>
<circle cx="628.13" cy="349.47" r="2.25" fill="white" stroke="#f08838" stroke-width="1.0"/>
<circle cx="633.52" cy="349.55" r="2.25" fill="white" stroke="#f08838" stroke-width="1.0"/>
<circle cx="638.91" cy="349.63" r="2.25" fill="white" stroke="#f08838" stroke-width="1.0"/>
<circle cx="644.3" cy="349.71" r="2.25" fill="white" stroke="#f08838" stroke-width="1.0"/>
<circle cx="380.19" cy="389.28" r="2.45" fill="url(#sph)" stroke="none" stroke-width="1"/>
<circle cx="385.58" cy="393.64" r="2.45" fill="url(#sph)" stroke="none" stroke-width="1"/>
<circle cx="390.97" cy="395.6" r="2.45" fill="url(#sph)" stroke="none" stroke-width="1"/>
<circle cx="396.36" cy="396.76" r="2.45" fill="url(#sph)" stroke="none" stroke-width="1"/>
<circle cx="401.75" cy="397.38" r="2.45" fill="url(#sph)" stroke="none" stroke-width="1"/>
<circle cx="407.14" cy="397.83" r="2.45" fill="url(#sph)" stroke="none" stroke-width="1"/>
<circle cx="412.53" cy="397.96" r="2.45" fill="url(#sph)" stroke="none" stroke-width="1"/>
<circle cx="417.92" cy="398.1" r="2.45" fill="url(#sph)" stroke="none" stroke-width="1"/>
<circle cx="423.31" cy="398.1" r="2.45" fill="url(#sph)" stroke="none" stroke-width="1"/>
<circle cx="428.7" cy="398.1" r="2.45" fill="url(#sph)" stroke="none" stroke-width="1"/>
<circle cx="434.09" cy="398.1" r="2.45" fill="url(#sph)" stroke="none" stroke-width="1"/>
<circle cx="439.48" cy="398.1" r="2.45" fill="url(#sph)" stroke="none" stroke-width="1"/>
<circle cx="444.87" cy="398.1" r="2.45" fill="url(#sph)" stroke="none" stroke-width="1"/>
<circle cx="450.26" cy="398.1" r="2.45" fill="url(#sph)" stroke="none" stroke-width="1"/>
<circle cx="455.65" cy="398.1" r="2.45" fill="url(#sph)" stroke="none" stroke-width="1"/>
<circle cx="461.04" cy="398.1" r="2.45" fill="url(#sph)" stroke="none" stroke-width="1"/>
<circle cx="466.43" cy="398.1" r="2.45" fill="url(#sph)" stroke="none" stroke-width="1"/>
<circle cx="471.82" cy="398.1" r="2.45" fill="url(#sph)" stroke="none" stroke-width="1"/>
<circle cx="477.21" cy="398.1" r="2.45" fill="url(#sph)" stroke="none" stroke-width="1"/>
<circle cx="482.6" cy="398.1" r="2.45" fill="url(#sph)" stroke="none" stroke-width="1"/>
<circle cx="487.99" cy="398.1" r="2.45" fill="url(#sph)" stroke="none" stroke-width="1"/>
<circle cx="493.38" cy="398.1" r="2.45" fill="url(#sph)" stroke="none" stroke-width="1"/>
<circle cx="498.77" cy="398.1" r="2.45" fill="url(#sph)" stroke="none" stroke-width="1"/>
<circle cx="504.16" cy="398.1" r="2.45" fill="url(#sph)" stroke="none" stroke-width="1"/>
<circle cx="509.55" cy="398.1" r="2.45" fill="url(#sph)" stroke="none" stroke-width="1"/>
<circle cx="514.94" cy="398.12" r="2.45" fill="url(#sph)" stroke="none" stroke-width="1"/>
<circle cx="520.33" cy="398.14" r="2.45" fill="url(#sph)" stroke="none" stroke-width="1"/>
<circle cx="525.72" cy="398.16" r="2.45" fill="url(#sph)" stroke="none" stroke-width="1"/>
<circle cx="531.11" cy="398.19" r="2.45" fill="url(#sph)" stroke="none" stroke-width="1"/>
<circle cx="536.5" cy="398.21" r="2.45" fill="url(#sph)" stroke="none" stroke-width="1"/>
<circle cx="541.89" cy="398.23" r="2.45" fill="url(#sph)" stroke="none" stroke-width="1"/>
<circle cx="547.28" cy="398.25" r="2.45" fill="url(#sph)" stroke="none" stroke-width="1"/>
<circle cx="552.67" cy="398.27" r="2.45" fill="url(#sph)" stroke="none" stroke-width="1"/>
<circle cx="558.06" cy="398.44" r="2.45" fill="url(#sph)" stroke="none" stroke-width="1"/>
<circle cx="563.45" cy="398.61" r="2.45" fill="url(#sph)" stroke="none" stroke-width="1"/>
<circle cx="568.84" cy="398.77" r="2.45" fill="url(#sph)" stroke="none" stroke-width="1"/>
<circle cx="574.23" cy="398.94" r="2.45" fill="url(#sph)" stroke="none" stroke-width="1"/>
<circle cx="579.62" cy="399.1" r="2.45" fill="url(#sph)" stroke="none" stroke-width="1"/>
<circle cx="585.01" cy="399.27" r="2.45" fill="url(#sph)" stroke="none" stroke-width="1"/>
<circle cx="590.4" cy="399.43" r="2.45" fill="url(#sph)" stroke="none" stroke-width="1"/>
<circle cx="595.79" cy="399.79" r="2.45" fill="url(#sph)" stroke="none" stroke-width="1"/>
<circle cx="601.18" cy="400.15" r="2.45" fill="url(#sph)" stroke="none" stroke-width="1"/>
<circle cx="606.57" cy="400.5" r="2.45" fill="url(#sph)" stroke="none" stroke-width="1"/>
<circle cx="611.96" cy="400.86" r="2.45" fill="url(#sph)" stroke="none" stroke-width="1"/>
<circle cx="617.35" cy="401.21" r="2.45" fill="url(#sph)" stroke="none" stroke-width="1"/>
<circle cx="622.74" cy="401.7" r="2.45" fill="url(#sph)" stroke="none" stroke-width="1"/>
<circle cx="628.13" cy="402.18" r="2.45" fill="url(#sph)" stroke="none" stroke-width="1"/>
<circle cx="633.52" cy="402.66" r="2.45" fill="url(#sph)" stroke="none" stroke-width="1"/>
<circle cx="638.91" cy="403.14" r="2.45" fill="url(#sph)" stroke="none" stroke-width="1"/>
<circle cx="644.3" cy="403.62" r="2.45" fill="url(#sph)" stroke="none" stroke-width="1"/>
<line x1="374.4" y1="343.4" x2="647.5" y2="343.4" stroke="#474747" stroke-width="1.1"/>
<line x1="374.4" y1="446.2" x2="647.5" y2="446.2" stroke="#474747" stroke-width="1.1"/>
<line x1="374.4" y1="343.4" x2="374.4" y2="446.2" stroke="#474747" stroke-width="1.1"/>
<line x1="647.5" y1="343.4" x2="647.5" y2="446.2" stroke="#474747" stroke-width="1.1"/>
<line x1="371.8" y1="437.3" x2="374.4" y2="437.3" stroke="#474747" stroke-width="1"/>
<text x="370.6" y="440.7" font-size="9.8" text-anchor="end" font-weight="normal" fill="#222">0</text>
<line x1="371.8" y1="419.48" x2="374.4" y2="419.48" stroke="#474747" stroke-width="1"/>
<text x="370.6" y="422.88" font-size="9.8" text-anchor="end" font-weight="normal" fill="#222">20</text>
<line x1="371.8" y1="401.66" x2="374.4" y2="401.66" stroke="#474747" stroke-width="1"/>
<text x="370.6" y="405.06" font-size="9.8" text-anchor="end" font-weight="normal" fill="#222">40</text>
<line x1="371.8" y1="383.84" x2="374.4" y2="383.84" stroke="#474747" stroke-width="1"/>
<text x="370.6" y="387.24" font-size="9.8" text-anchor="end" font-weight="normal" fill="#222">60</text>
<line x1="371.8" y1="366.02" x2="374.4" y2="366.02" stroke="#474747" stroke-width="1"/>
<text x="370.6" y="369.42" font-size="9.8" text-anchor="end" font-weight="normal" fill="#222">80</text>
<line x1="371.8" y1="348.2" x2="374.4" y2="348.2" stroke="#474747" stroke-width="1"/>
<text x="370.6" y="351.6" font-size="9.8" text-anchor="end" font-weight="normal" fill="#222">100</text>
<line x1="372.9" y1="446.21" x2="374.4" y2="446.21" stroke="#474747" stroke-width="1"/>
<line x1="372.9" y1="428.39" x2="374.4" y2="428.39" stroke="#474747" stroke-width="1"/>
<line x1="372.9" y1="410.57" x2="374.4" y2="410.57" stroke="#474747" stroke-width="1"/>
<line x1="372.9" y1="392.75" x2="374.4" y2="392.75" stroke="#474747" stroke-width="1"/>
<line x1="372.9" y1="374.93" x2="374.4" y2="374.93" stroke="#474747" stroke-width="1"/>
<line x1="372.9" y1="357.11" x2="374.4" y2="357.11" stroke="#474747" stroke-width="1"/>
<line x1="647.5" y1="437.3" x2="650.1" y2="437.3" stroke="#474747" stroke-width="1"/>
<text x="651.3" y="440.7" font-size="9.8" text-anchor="start" font-weight="normal" fill="#222">0</text>
<line x1="647.5" y1="419.48" x2="650.1" y2="419.48" stroke="#474747" stroke-width="1"/>
<text x="651.3" y="422.88" font-size="9.8" text-anchor="start" font-weight="normal" fill="#222">20</text>
<line x1="647.5" y1="401.66" x2="650.1" y2="401.66" stroke="#474747" stroke-width="1"/>
<text x="651.3" y="405.06" font-size="9.8" text-anchor="start" font-weight="normal" fill="#222">40</text>
<line x1="647.5" y1="383.84" x2="650.1" y2="383.84" stroke="#474747" stroke-width="1"/>
<text x="651.3" y="387.24" font-size="9.8" text-anchor="start" font-weight="normal" fill="#222">60</text>
<line x1="647.5" y1="366.02" x2="650.1" y2="366.02" stroke="#474747" stroke-width="1"/>
<text x="651.3" y="369.42" font-size="9.8" text-anchor="start" font-weight="normal" fill="#222">80</text>
<line x1="647.5" y1="348.2" x2="650.1" y2="348.2" stroke="#474747" stroke-width="1"/>
<text x="651.3" y="351.6" font-size="9.8" text-anchor="start" font-weight="normal" fill="#222">100</text>
<line x1="647.5" y1="446.21" x2="649" y2="446.21" stroke="#474747" stroke-width="1"/>
<line x1="647.5" y1="428.39" x2="649" y2="428.39" stroke="#474747" stroke-width="1"/>
<line x1="647.5" y1="410.57" x2="649" y2="410.57" stroke="#474747" stroke-width="1"/>
<line x1="647.5" y1="392.75" x2="649" y2="392.75" stroke="#474747" stroke-width="1"/>
<line x1="647.5" y1="374.93" x2="649" y2="374.93" stroke="#474747" stroke-width="1"/>
<line x1="647.5" y1="357.11" x2="649" y2="357.11" stroke="#474747" stroke-width="1"/>
<line x1="374.8" y1="446.2" x2="374.8" y2="448.8" stroke="#474747" stroke-width="1"/>
<text x="374.8" y="458.9" font-size="9.8" text-anchor="middle" font-weight="normal" fill="#222">0</text>
<line x1="401.75" y1="446.2" x2="401.75" y2="448.8" stroke="#474747" stroke-width="1"/>
<text x="401.75" y="458.9" font-size="9.8" text-anchor="middle" font-weight="normal" fill="#222">5</text>
<line x1="428.7" y1="446.2" x2="428.7" y2="448.8" stroke="#474747" stroke-width="1"/>
<text x="428.7" y="458.9" font-size="9.8" text-anchor="middle" font-weight="normal" fill="#222">10</text>
<line x1="455.65" y1="446.2" x2="455.65" y2="448.8" stroke="#474747" stroke-width="1"/>
<text x="455.65" y="458.9" font-size="9.8" text-anchor="middle" font-weight="normal" fill="#222">15</text>
<line x1="482.6" y1="446.2" x2="482.6" y2="448.8" stroke="#474747" stroke-width="1"/>
<text x="482.6" y="458.9" font-size="9.8" text-anchor="middle" font-weight="normal" fill="#222">20</text>
<line x1="509.55" y1="446.2" x2="509.55" y2="448.8" stroke="#474747" stroke-width="1"/>
<text x="509.55" y="458.9" font-size="9.8" text-anchor="middle" font-weight="normal" fill="#222">25</text>
<line x1="536.5" y1="446.2" x2="536.5" y2="448.8" stroke="#474747" stroke-width="1"/>
<text x="536.5" y="458.9" font-size="9.8" text-anchor="middle" font-weight="normal" fill="#222">30</text>
<line x1="563.45" y1="446.2" x2="563.45" y2="448.8" stroke="#474747" stroke-width="1"/>
<text x="563.45" y="458.9" font-size="9.8" text-anchor="middle" font-weight="normal" fill="#222">35</text>
<line x1="590.4" y1="446.2" x2="590.4" y2="448.8" stroke="#474747" stroke-width="1"/>
<text x="590.4" y="458.9" font-size="9.8" text-anchor="middle" font-weight="normal" fill="#222">40</text>
<line x1="617.35" y1="446.2" x2="617.35" y2="448.8" stroke="#474747" stroke-width="1"/>
<text x="617.35" y="458.9" font-size="9.8" text-anchor="middle" font-weight="normal" fill="#222">45</text>
<line x1="644.3" y1="446.2" x2="644.3" y2="448.8" stroke="#474747" stroke-width="1"/>
<text x="644.3" y="458.9" font-size="9.8" text-anchor="middle" font-weight="normal" fill="#222">50</text>
<line x1="388.28" y1="446.2" x2="388.28" y2="447.7" stroke="#474747" stroke-width="1"/>
<line x1="415.23" y1="446.2" x2="415.23" y2="447.7" stroke="#474747" stroke-width="1"/>
<line x1="442.18" y1="446.2" x2="442.18" y2="447.7" stroke="#474747" stroke-width="1"/>
<line x1="469.12" y1="446.2" x2="469.12" y2="447.7" stroke="#474747" stroke-width="1"/>
<line x1="496.07" y1="446.2" x2="496.07" y2="447.7" stroke="#474747" stroke-width="1"/>
<line x1="523.02" y1="446.2" x2="523.02" y2="447.7" stroke="#474747" stroke-width="1"/>
<line x1="549.98" y1="446.2" x2="549.98" y2="447.7" stroke="#474747" stroke-width="1"/>
<line x1="576.92" y1="446.2" x2="576.92" y2="447.7" stroke="#474747" stroke-width="1"/>
<line x1="603.88" y1="446.2" x2="603.88" y2="447.7" stroke="#474747" stroke-width="1"/>
<line x1="630.83" y1="446.2" x2="630.83" y2="447.7" stroke="#474747" stroke-width="1"/>
<text x="520.4" y="470.3" font-size="9.8" text-anchor="middle" font-weight="normal" fill="#222">Cycle number</text>
<text x="351.5" y="394.2" font-size="9.8" text-anchor="middle" font-weight="normal" fill="#222" transform="rotate(-90 351.5 394.2)">Capacity (mAh)</text>
<text x="675.5" y="395" font-size="9.8" text-anchor="middle" font-weight="normal" fill="#222" transform="rotate(-90 675.5 395)">Coulombic efficiency (%)</text>
<text x="343.5" y="341.3" font-size="15.5" text-anchor="start" font-weight="bold" fill="#111">f</text>
<circle cx="481.8" cy="367.7" r="2.8" fill="url(#sph)" stroke="none" stroke-width="1"/>
<text x="494.8" y="370.8" font-size="9.8" text-anchor="start" font-weight="normal" fill="#222">1 M LiFSI in DEA/FB (1:1 v/v)</text>
<text x="437.3" y="393.1" font-size="9.8" text-anchor="start" font-weight="normal" fill="#222">12 mA g<tspan dy="-3.5" font-size="6.5">-1</tspan></text>
<text x="519.6" y="390.6" font-size="9.8" text-anchor="start" font-weight="normal" fill="#222">334.53 Wh kg<tspan dy="-3.5" font-size="6.5">-1</tspan></text>
<text x="384.4" y="424.7" font-size="9.8" text-anchor="start" font-weight="normal" fill="#222">25 <tspan font-family="Liberation Serif">°C</tspan></text>
<text x="433.6" y="425.6" font-size="9.8" text-anchor="start" font-weight="normal" fill="#222">6.41 mg cm<tspan dy="-3.5" font-size="6.5">-2</tspan></text>
<text x="377.7" y="437.6" font-size="9.8" text-anchor="start" font-weight="normal" fill="#222">Li||SPAN</text>
<text x="444" y="437.6" font-size="9.8" text-anchor="start" font-weight="normal" fill="#222">N/P = 3</text>
<line x1="626" y1="351.5" x2="626" y2="358.7" stroke="#111" stroke-width="0.9"/>
<line x1="626" y1="358.7" x2="642" y2="358.7" stroke="#111" stroke-width="0.9"/>
<polygon points="646.5,358.7 641.9,357.2 641.9,360.2" fill="#111"/>
<rect x="46.2" y="566.49" width="30.7" height="76.51" fill="url(#g1)"/>
<rect x="85.1" y="612.66" width="31.1" height="30.34" fill="url(#g2)"/>
<rect x="124.4" y="618.99" width="30.8" height="24.01" fill="url(#g3)"/>
<rect x="163.1" y="631.92" width="30.9" height="11.08" fill="url(#g4)"/>
<rect x="202" y="524.27" width="31" height="118.73" fill="url(#g5)"/>
<text x="62.8" y="562.3" font-size="10.45" text-anchor="middle" font-weight="normal" fill="#222">SPAN</text>
<text x="104" y="610.6" font-size="10.45" text-anchor="middle" font-weight="normal" fill="#222">Li anode</text>
<text x="143.7" y="617.3" font-size="10.45" text-anchor="middle" font-weight="normal" fill="#222">Al foil</text>
<text x="181.5" y="629.2" font-size="10.45" text-anchor="middle" font-weight="normal" fill="#222">Separator</text>
<text x="219.2" y="520.8" font-size="10.45" text-anchor="middle" font-weight="normal" fill="#222">Electrolyte</text>
<line x1="42.3" y1="484.7" x2="42.3" y2="643" stroke="#222" stroke-width="1.1"/>
<line x1="42.3" y1="643" x2="237.7" y2="643" stroke="#222" stroke-width="1.1"/>
<line x1="38.8" y1="643" x2="42.3" y2="643" stroke="#222" stroke-width="1"/>
<text x="37.3" y="646.8" font-size="10.6" text-anchor="end" font-weight="normal" fill="#222">0</text>
<line x1="38.8" y1="616.62" x2="42.3" y2="616.62" stroke="#222" stroke-width="1"/>
<text x="37.3" y="620.42" font-size="10.6" text-anchor="end" font-weight="normal" fill="#222">10</text>
<line x1="38.8" y1="590.23" x2="42.3" y2="590.23" stroke="#222" stroke-width="1"/>
<text x="37.3" y="594.03" font-size="10.6" text-anchor="end" font-weight="normal" fill="#222">20</text>
<line x1="38.8" y1="563.85" x2="42.3" y2="563.85" stroke="#222" stroke-width="1"/>
<text x="37.3" y="567.65" font-size="10.6" text-anchor="end" font-weight="normal" fill="#222">30</text>
<line x1="38.8" y1="537.47" x2="42.3" y2="537.47" stroke="#222" stroke-width="1"/>
<text x="37.3" y="541.27" font-size="10.6" text-anchor="end" font-weight="normal" fill="#222">40</text>
<line x1="38.8" y1="511.08" x2="42.3" y2="511.08" stroke="#222" stroke-width="1"/>
<text x="37.3" y="514.88" font-size="10.6" text-anchor="end" font-weight="normal" fill="#222">50</text>
<line x1="38.8" y1="484.7" x2="42.3" y2="484.7" stroke="#222" stroke-width="1"/>
<text x="37.3" y="488.5" font-size="10.6" text-anchor="end" font-weight="normal" fill="#222">60</text>
<line x1="40.3" y1="629.81" x2="42.3" y2="629.81" stroke="#222" stroke-width="1"/>
<line x1="40.3" y1="603.42" x2="42.3" y2="603.42" stroke="#222" stroke-width="1"/>
<line x1="40.3" y1="577.04" x2="42.3" y2="577.04" stroke="#222" stroke-width="1"/>
<line x1="40.3" y1="550.66" x2="42.3" y2="550.66" stroke="#222" stroke-width="1"/>
<line x1="40.3" y1="524.27" x2="42.3" y2="524.27" stroke="#222" stroke-width="1"/>
<line x1="40.3" y1="497.89" x2="42.3" y2="497.89" stroke="#222" stroke-width="1"/>
<text x="18.5" y="564" font-size="10.6" text-anchor="middle" font-weight="normal" fill="#222" transform="rotate(-90 18.5 564)">Weight percent (%)</text>
<text x="4.3" y="477.9" font-size="15.5" text-anchor="start" font-weight="bold" fill="#111">g</text>
<text x="54.3" y="495.2" font-size="10.6" text-anchor="start" font-weight="normal" fill="#222">Li-SPAN pouch cell</text>
<rect x="243.1" y="475.4" width="186.7" height="28.5" fill="#ee8131"/>
<rect x="243.1" y="503.9" width="186.7" height="87.7" fill="#fbe5d9"/>
<rect x="243.1" y="591.6" width="186.7" height="29.5" fill="#fde39c"/>
<rect x="243.1" y="621.1" width="186.7" height="28.9" fill="#f3b089"/>
<text x="230" y="481.9" font-size="15.5" text-anchor="start" font-weight="bold" fill="#111">h</text>
<text x="336.1" y="493.6" font-size="9.9" text-anchor="middle" font-weight="normal" fill="#2a2a2a">Pouch cell parameters</text>
<text x="293.8" y="522.7" font-size="9.9" text-anchor="middle" font-weight="normal" fill="#2e2e2e">Electrolyte</text>
<text x="387.2" y="522.7" font-size="9.9" text-anchor="middle" font-weight="normal" fill="#2e2e2e">3.0 g Ah<tspan dy="-3.5" font-size="6.3">-1</tspan></text>
<text x="293.8" y="551.6" font-size="9.9" text-anchor="middle" font-weight="normal" fill="#2e2e2e">Anode</text>
<text x="387.2" y="551.6" font-size="9.9" text-anchor="middle" font-weight="normal" fill="#2e2e2e">50 μm Li foil</text>
<text x="293.8" y="580.8" font-size="9.9" text-anchor="middle" font-weight="normal" fill="#2e2e2e">SPAN areal capacity</text>
<text x="387.2" y="580.8" font-size="9.9" text-anchor="middle" font-weight="normal" fill="#2e2e2e">3.3 mAh cm<tspan dy="-3.5" font-size="6.3">-2</tspan></text>
<text x="293.8" y="609.7" font-size="9.9" text-anchor="middle" font-weight="normal" fill="#2e2e2e">N/P ratio</text>
<text x="387.2" y="609.7" font-size="9.9" text-anchor="middle" font-weight="normal" fill="#2e2e2e">3</text>
<text x="293.8" y="638.9" font-size="9.9" text-anchor="middle" font-weight="normal" fill="#2e2e2e">Energy density</text>
<text x="387.2" y="638.9" font-size="9.9" text-anchor="middle" font-weight="normal" fill="#2e2e2e">334.53 Wh kg<tspan dy="-3.5" font-size="6.3">-1</tspan></text>
<polygon points="552.8,510.14 600.95,546.95 582.74,603.81 522.86,603.81 503.49,546.58" fill="#fbd9c3" stroke="none" stroke-width="0" stroke-linejoin="round"/>
<polygon points="552.8,550.4 564.4,558.83 559.97,572.47 545.63,572.47 541.2,558.83" fill="none" stroke="#c9b8ae" stroke-width="0.5" stroke-linejoin="round"/>
<polygon points="552.8,538.2 576.01,555.06 567.14,582.34 538.46,582.34 529.59,555.06" fill="none" stroke="#c9b8ae" stroke-width="0.5" stroke-linejoin="round"/>
<polygon points="552.8,526 587.61,551.29 574.31,592.21 531.29,592.21 517.99,551.29" fill="none" stroke="#c9b8ae" stroke-width="0.5" stroke-linejoin="round"/>
<line x1="552.8" y1="562.6" x2="552.8" y2="501.6" stroke="#555" stroke-width="0.6"/>
<line x1="552.8" y1="562.6" x2="610.81" y2="543.75" stroke="#555" stroke-width="0.6"/>
<line x1="552.8" y1="562.6" x2="588.65" y2="611.95" stroke="#555" stroke-width="0.6"/>
<line x1="552.8" y1="562.6" x2="516.95" y2="611.95" stroke="#555" stroke-width="0.6"/>
<line x1="552.8" y1="562.6" x2="494.79" y2="543.75" stroke="#555" stroke-width="0.6"/>
<polygon points="552.8,513.8 587.61,551.29 582.92,604.05 531.65,591.72 517.99,551.29" fill="none" stroke="#35c5d5" stroke-width="0.7" stroke-linejoin="round"/>
<circle cx="552.8" cy="513.8" r="1.3" fill="#35c5d5" stroke="none" stroke-width="1"/>
<circle cx="587.61" cy="551.29" r="1.3" fill="#35c5d5" stroke="none" stroke-width="1"/>
<circle cx="582.92" cy="604.05" r="1.3" fill="#35c5d5" stroke="none" stroke-width="1"/>
<circle cx="531.65" cy="591.72" r="1.3" fill="#35c5d5" stroke="none" stroke-width="1"/>
<circle cx="517.99" cy="551.29" r="1.3" fill="#35c5d5" stroke="none" stroke-width="1"/>
<polygon points="552.8,504.65 581.81,553.17 574.67,592.7 531.29,592.21 528.43,554.68" fill="none" stroke="#a5a020" stroke-width="0.7" stroke-linejoin="round"/>
<circle cx="552.8" cy="504.65" r="1.3" fill="#a5a020" stroke="none" stroke-width="1"/>
<circle cx="581.81" cy="553.17" r="1.3" fill="#a5a020" stroke="none" stroke-width="1"/>
<circle cx="574.67" cy="592.7" r="1.3" fill="#a5a020" stroke="none" stroke-width="1"/>
<circle cx="531.29" cy="592.21" r="1.3" fill="#a5a020" stroke="none" stroke-width="1"/>
<circle cx="528.43" cy="554.68" r="1.3" fill="#a5a020" stroke="none" stroke-width="1"/>
<polygon points="552.8,512.58 592.25,549.78 574.31,592.21 534.87,587.28 515.67,550.54" fill="none" stroke="#9a6a6a" stroke-width="0.7" stroke-linejoin="round"/>
<circle cx="552.8" cy="512.58" r="1.3" fill="#9a6a6a" stroke="none" stroke-width="1"/>
<circle cx="592.25" cy="549.78" r="1.3" fill="#9a6a6a" stroke="none" stroke-width="1"/>
<circle cx="574.31" cy="592.21" r="1.3" fill="#9a6a6a" stroke="none" stroke-width="1"/>
<circle cx="534.87" cy="587.28" r="1.3" fill="#9a6a6a" stroke="none" stroke-width="1"/>
<circle cx="515.67" cy="550.54" r="1.3" fill="#9a6a6a" stroke="none" stroke-width="1"/>
<polygon points="552.8,515.02 578.91,554.12 582.92,604.05 537.74,583.33 502.91,546.39" fill="none" stroke="#2a6ee0" stroke-width="0.7" stroke-linejoin="round"/>
<circle cx="552.8" cy="515.02" r="1.3" fill="#2a6ee0" stroke="none" stroke-width="1"/>
<circle cx="578.91" cy="554.12" r="1.3" fill="#2a6ee0" stroke="none" stroke-width="1"/>
<circle cx="582.92" cy="604.05" r="1.3" fill="#2a6ee0" stroke="none" stroke-width="1"/>
<circle cx="537.74" cy="583.33" r="1.3" fill="#2a6ee0" stroke="none" stroke-width="1"/>
<circle cx="502.91" cy="546.39" r="1.3" fill="#2a6ee0" stroke="none" stroke-width="1"/>
<polygon points="552.8,512.58 590.51,550.35 582.92,604.05 531.65,591.72 516.83,550.91" fill="none" stroke="#3aa868" stroke-width="0.7" stroke-linejoin="round"/>
<circle cx="552.8" cy="512.58" r="1.3" fill="#3aa868" stroke="none" stroke-width="1"/>
<circle cx="590.51" cy="550.35" r="1.3" fill="#3aa868" stroke="none" stroke-width="1"/>
<circle cx="582.92" cy="604.05" r="1.3" fill="#3aa868" stroke="none" stroke-width="1"/>
<circle cx="531.65" cy="591.72" r="1.3" fill="#3aa868" stroke="none" stroke-width="1"/>
<circle cx="516.83" cy="550.91" r="1.3" fill="#3aa868" stroke="none" stroke-width="1"/>
<polygon points="552.8,510.14 564.98,558.64 574.67,592.7 534.87,587.28 509.87,548.65" fill="none" stroke="#f05050" stroke-width="0.7" stroke-linejoin="round"/>
<circle cx="552.8" cy="510.14" r="1.3" fill="#f05050" stroke="none" stroke-width="1"/>
<circle cx="564.98" cy="558.64" r="1.3" fill="#f05050" stroke="none" stroke-width="1"/>
<circle cx="574.67" cy="592.7" r="1.3" fill="#f05050" stroke="none" stroke-width="1"/>
<circle cx="534.87" cy="587.28" r="1.3" fill="#f05050" stroke="none" stroke-width="1"/>
<circle cx="509.87" cy="548.65" r="1.3" fill="#f05050" stroke="none" stroke-width="1"/>
<polygon points="552.8,516.85 552.8,562.6 576.82,595.66 552.8,562.6 552.8,562.6" fill="none" stroke="#c090e0" stroke-width="0.7" stroke-linejoin="round"/>
<circle cx="552.8" cy="516.85" r="1.3" fill="#c090e0" stroke="none" stroke-width="1"/>
<circle cx="552.8" cy="562.6" r="1.3" fill="#c090e0" stroke="none" stroke-width="1"/>
<circle cx="576.82" cy="595.66" r="1.3" fill="#c090e0" stroke="none" stroke-width="1"/>
<circle cx="552.8" cy="562.6" r="1.3" fill="#c090e0" stroke="none" stroke-width="1"/>
<circle cx="552.8" cy="562.6" r="1.3" fill="#c090e0" stroke="none" stroke-width="1"/>
<polygon points="552.8,524.78 564.98,558.64 557.46,569.02 532.72,590.24 540.62,558.64" fill="none" stroke="#d8a020" stroke-width="0.7" stroke-linejoin="round"/>
<circle cx="552.8" cy="524.78" r="1.3" fill="#d8a020" stroke="none" stroke-width="1"/>
<circle cx="564.98" cy="558.64" r="1.3" fill="#d8a020" stroke="none" stroke-width="1"/>
<circle cx="557.46" cy="569.02" r="1.3" fill="#d8a020" stroke="none" stroke-width="1"/>
<circle cx="532.72" cy="590.24" r="1.3" fill="#d8a020" stroke="none" stroke-width="1"/>
<circle cx="540.62" cy="558.64" r="1.3" fill="#d8a020" stroke="none" stroke-width="1"/>
<polygon points="552.8,510.14 600.95,546.95 582.74,603.81 522.86,603.81 503.49,546.58" fill="none" stroke="#f27a2a" stroke-width="1.3" stroke-linejoin="round"/>
<circle cx="552.8" cy="510.14" r="1.1" fill="#f27a2a" stroke="none" stroke-width="1"/>
<circle cx="600.95" cy="546.95" r="1.1" fill="#f27a2a" stroke="none" stroke-width="1"/>
<circle cx="582.74" cy="603.81" r="1.1" fill="#f27a2a" stroke="none" stroke-width="1"/>
<circle cx="522.86" cy="603.81" r="1.1" fill="#f27a2a" stroke="none" stroke-width="1"/>
<circle cx="503.49" cy="546.58" r="1.1" fill="#f27a2a" stroke="none" stroke-width="1"/>
<polygon points="552.8,501.6 610.81,543.75 588.65,611.95 516.95,611.95 494.79,543.75" fill="none" stroke="#2a2a2a" stroke-width="0.9" stroke-linejoin="round"/>
<text x="553" y="486" font-size="7.5" text-anchor="middle" font-weight="normal" fill="#222">Li anode CEs</text>
<text x="553" y="495" font-size="7.5" text-anchor="middle" font-weight="normal" fill="#222">at RT (%)</text>
<text x="601.8" y="535.7" font-size="7.5" text-anchor="start" font-weight="normal" fill="#222">SPAN mass loading</text>
<text x="618.5" y="545.9" font-size="7.5" text-anchor="start" font-weight="normal" fill="#222">(mg cm<tspan dy="-2.8" font-size="5">-2</tspan><tspan dy="2.8">)</tspan></text>
<text x="432.8" y="538.3" font-size="7.5" text-anchor="start" font-weight="normal" fill="#222">Minimum operating</text>
<text x="438" y="547.8" font-size="7.5" text-anchor="start" font-weight="normal" fill="#222">temperature (°C)</text>
<text x="508.2" y="624.3" font-size="7.5" text-anchor="middle" font-weight="normal" fill="#222">SPAN cycle</text>
<text x="509.2" y="633.3" font-size="7.5" text-anchor="middle" font-weight="normal" fill="#222">numbers at LT</text>
<text x="593.3" y="622.9" font-size="8.4" text-anchor="middle" font-weight="normal" fill="#222">Lithium salt</text>
<text x="594.2" y="632.2" font-size="8.4" text-anchor="middle" font-weight="normal" fill="#222">concentration</text>
<text x="594" y="644" font-size="8.4" text-anchor="middle" font-weight="normal" fill="#222">(mol L<tspan dy="-3" font-size="5.5">-1</tspan><tspan dy="3">)</tspan></text>
<text x="442.3" y="482" font-size="15.5" text-anchor="start" font-weight="bold" fill="#111">i</text>
<text x="551.5" y="504.5" font-size="7.5" text-anchor="end" font-weight="normal" fill="#222">100</text>
<line x1="551.3" y1="502.3" x2="553" y2="502.3" stroke="#333" stroke-width="0.6"/>
<text x="551.8" y="528.8" font-size="7.5" text-anchor="end" font-weight="normal" fill="#222">97</text>
<line x1="551.8" y1="526.5" x2="553" y2="526.5" stroke="#333" stroke-width="0.6"/>
<text x="577" y="552.5" font-size="7.5" text-anchor="middle" font-weight="normal" fill="#222" transform="rotate(-18 577 552.5)">5.5</text>
<text x="604.2" y="546.2" font-size="7.5" text-anchor="middle" font-weight="normal" fill="#222" transform="rotate(-22 604.2 546.2)">6.5</text>
<text x="538.8" y="563.5" font-size="7.5" text-anchor="middle" font-weight="normal" fill="#222" transform="rotate(-72 538.8 563.5)">0</text>
<text x="502" y="555.5" font-size="7.5" text-anchor="middle" font-weight="normal" fill="#222" transform="rotate(-72 502 555.5)">60</text>
<text x="548" y="588.5" font-size="7.5" text-anchor="middle" font-weight="normal" fill="#222" transform="rotate(25 548 588.5)">100</text>
<text x="530.5" y="611.5" font-size="7.5" text-anchor="middle" font-weight="normal" fill="#222" transform="rotate(50 530.5 611.5)">400</text>
<text x="567" y="580" font-size="7.5" text-anchor="middle" font-weight="normal" fill="#222" transform="rotate(60 567 580)">3</text>
<text x="587.5" y="605" font-size="7.5" text-anchor="middle" font-weight="normal" fill="#222" transform="rotate(-36 587.5 605)">1</text>
<rect x="617.8" y="549.7" width="16.4" height="7.8" fill="#fbd3b9"/>
<rect x="617.8" y="549.7" width="16.4" height="7.8" fill="none" stroke="#f27a2a" stroke-width="1"/>
<text x="637" y="556.2" font-size="7.5" text-anchor="start" font-weight="normal" fill="#222">This work</text>
<line x1="618" y1="562.5" x2="634.6" y2="562.5" stroke="#35c5d5" stroke-width="0.9"/>
<circle cx="626.3" cy="562.5" r="1.4" fill="#35c5d5" stroke="none" stroke-width="1"/>
<text x="637" y="565.2" font-size="7.5" text-anchor="start" font-weight="normal" fill="#222">Ref. 35 (2022)</text>
<line x1="618" y1="571.77" x2="634.6" y2="571.77" stroke="#a5a020" stroke-width="0.9"/>
<circle cx="626.3" cy="571.77" r="1.4" fill="#a5a020" stroke="none" stroke-width="1"/>
<text x="637" y="574.47" font-size="7.5" text-anchor="start" font-weight="normal" fill="#222">Ref. 38 (2024)</text>
<line x1="618" y1="581.04" x2="634.6" y2="581.04" stroke="#9a6a6a" stroke-width="0.9"/>
<polygon points="624.8,579.34 628.2,581.04 624.8,582.74" fill="#9a6a6a"/>
<text x="637" y="583.74" font-size="7.5" text-anchor="start" font-weight="normal" fill="#222">Ref. 42 (2023)</text>
<line x1="618" y1="590.31" x2="634.6" y2="590.31" stroke="#2a6ee0" stroke-width="0.9"/>
<circle cx="626.3" cy="590.31" r="1.4" fill="#2a6ee0" stroke="none" stroke-width="1"/>
<text x="637" y="593.01" font-size="7.5" text-anchor="start" font-weight="normal" fill="#222">Ref. 44 (2022)</text>
<line x1="618" y1="599.58" x2="634.6" y2="599.58" stroke="#3aa868" stroke-width="0.9"/>
<circle cx="626.3" cy="599.58" r="1.4" fill="#3aa868" stroke="none" stroke-width="1"/>
<text x="637" y="602.28" font-size="7.5" text-anchor="start" font-weight="normal" fill="#222">Ref. 59 (2022)</text>
<line x1="618" y1="608.85" x2="634.6" y2="608.85" stroke="#f05050" stroke-width="0.9"/>
<circle cx="626.3" cy="608.85" r="1.4" fill="#f05050" stroke="none" stroke-width="1"/>
<text x="637" y="611.55" font-size="7.5" text-anchor="start" font-weight="normal" fill="#222">Ref. 60 (2024)</text>
<line x1="618" y1="618.12" x2="634.6" y2="618.12" stroke="#c090e0" stroke-width="0.9"/>
<polygon points="624.6,616.72 628,616.72 626.3,619.72" fill="#c090e0"/>
<text x="637" y="620.82" font-size="7.5" text-anchor="start" font-weight="normal" fill="#222">Ref. 61 (2024)</text>
<line x1="618" y1="627.39" x2="634.6" y2="627.39" stroke="#d8a020" stroke-width="0.9"/>
<circle cx="626.3" cy="627.39" r="1.4" fill="#d8a020" stroke="none" stroke-width="1"/>
<text x="637" y="630.09" font-size="7.5" text-anchor="start" font-weight="normal" fill="#222">Ref. 62 (2024)</text>
</svg></body></html>
